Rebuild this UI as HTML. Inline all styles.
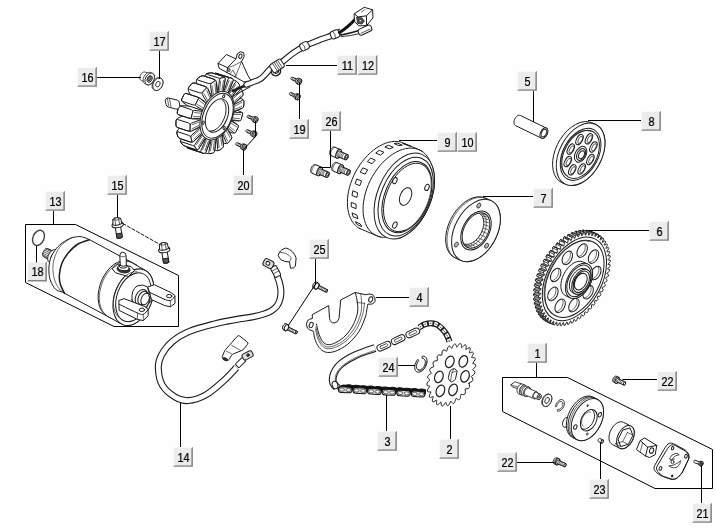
<!DOCTYPE html>
<html lang="en"><head><meta charset="utf-8"><title>Parts diagram</title>
<style>
html,body{margin:0;padding:0;background:#fff}
body{width:716px;height:531px;overflow:hidden;position:relative;font-family:"Liberation Sans",sans-serif}
svg{position:absolute;left:0;top:0;display:block}
.ln{fill:none;stroke:#000;stroke-width:1}
.p{fill:#fefefe;stroke:#1c1c1c;stroke-width:1;stroke-linejoin:round;stroke-linecap:round}
.n{fill:none;stroke:#1c1c1c;stroke-width:1;stroke-linejoin:round;stroke-linecap:round}
.t{fill:none;stroke:#2a2a2a;stroke-width:.7;stroke-linejoin:round;stroke-linecap:round}
.q{fill:#fefefe;stroke:#222;stroke-width:.85;stroke-linejoin:round}
.g{fill:#bbb;stroke:#222;stroke-width:.8}
.d{fill:#333;stroke:#222;stroke-width:.8}
.lb rect.f{fill:#ececec}
.lb path.s{fill:#828282}
.lb path.h{fill:#f8f8f8}
.lb text{font-family:"Liberation Sans",sans-serif;font-size:12px;fill:#000;stroke:#000;stroke-width:.25px;text-anchor:middle}
</style></head><body>
<svg width="716" height="531" viewBox="0 0 716 531">
<rect width="716" height="531" fill="#fefefe"/>

<g id="parts">
<path class="p" d="M359.8 228.5C356.4 226.9 356.8 226.6 355.5 225.4C354.2 224.2 353 222.7 352 221.1C351 219.5 350.1 217.7 349.4 215.7C348.8 213.8 348.2 211.7 347.9 209.5C347.5 207.3 347.4 204.9 347.4 202.5C347.4 200.1 347.6 197.6 347.9 195C348.3 192.5 348.8 189.9 349.5 187.3C350.2 184.7 351.1 182.1 352.1 179.5C353.1 176.9 354.3 174.4 355.6 171.9C356.9 169.5 358.4 167.1 359.9 164.8C361.5 162.5 363.2 160.3 364.9 158.3C366.7 156.3 368.5 154.4 370.5 152.6C372.4 150.9 374.3 149.4 376.3 148C378.3 146.7 380.4 145.5 382.4 144.5C384.4 143.6 386.5 142.8 388.5 142.3C390.5 141.8 392.5 141.5 394.4 141.4C396.2 141.4 398.1 141.5 399.9 141.9C401.6 142.3 401.4 142.3 404.8 143.7C408.3 145.2 417.4 149 420.5 150.4C423.6 151.8 422.5 151.6 423.4 152.3C424.4 153.1 425.2 153.9 426 154.8C426.8 155.7 427.5 156.5 428.3 157.8C429 159.1 429.9 161.1 430.7 162.7C431.4 164.3 432.2 165.8 432.7 167.5C433.3 169.2 433.7 171.1 434 173C434.3 175 434.5 177.1 434.5 179.2C434.6 181.3 434.5 183.5 434.3 185.8C434 188 433.7 190.3 433.2 192.6C432.7 194.9 432.1 197.3 431.4 199.6C430.7 201.9 429.8 204.2 428.8 206.4C427.9 208.7 426.8 210.9 425.7 213C424.5 215.1 423.3 217.2 421.9 219.1C420.6 221.1 419.2 222.9 417.8 224.7C416.3 226.4 414.8 228 413.2 229.4C411.6 230.9 410 232.2 408.4 233.3C406.8 234.5 405.2 235.4 403.5 236.2C401.9 237 401.6 237.9 398.7 238.1C395.7 238.3 388.7 237.6 385.9 237.4C383.2 237.3 383.4 237.4 382.2 237.3C381 237.1 379.8 236.9 378.7 236.5C377.5 236.2 378.6 236.5 375.4 235.1C372.3 233.8 363.1 230.1 359.8 228.5Z"/>
<path class="n" d="M380.4 237C379.5 236.6 376.7 235.9 375 234.9C373.4 234 371.8 232.8 370.5 231.4C369.1 230 367.9 228.3 366.9 226.5C365.9 224.6 365.1 222.6 364.5 220.4C363.8 218.2 363.4 215.8 363.2 213.3C363 210.8 363 208.1 363.2 205.4C363.4 202.8 363.8 199.9 364.4 197.2C365 194.4 365.8 191.5 366.8 188.7C367.8 185.9 369 183.1 370.3 180.4C371.6 177.7 373.2 175.1 374.8 172.6C376.4 170.1 378.3 167.7 380.1 165.4C382 163.2 384 161.1 386.1 159.3C388.2 157.4 390.3 155.7 392.5 154.3C394.7 152.9 396.9 151.7 399.1 150.7C401.3 149.8 403.5 149.1 405.6 148.6C407.8 148.2 409.9 148 411.9 148.1C413.9 148.2 415.9 148.5 417.7 149.2C419.5 149.8 421.9 151.3 422.7 151.8"/>
<path class="p" d="M357.5 224.7L361.9 226.6L360.1 223.8L355.6 221.9Z"/>
<path class="p" d="M353.4 216.8L357.9 218.7L356.9 215L352.4 213.1Z"/>
<path class="p" d="M351.7 206.9L356.1 208.7L356.1 204.4L351.6 202.5Z"/>
<path class="p" d="M352.3 195.6L356.8 197.5L357.7 192.8L353.3 190.9Z"/>
<path class="p" d="M355.4 183.8L359.8 185.7L361.6 181L357.2 179.1Z"/>
<path class="p" d="M360.6 172.3L365.1 174.1L367.7 169.8L363.2 168Z"/>
<path class="p" d="M367.7 161.8L372.1 163.7L375.3 160.1L370.9 158.2Z"/>
<path class="p" d="M376.1 153.2L380.5 155.1L384 152.3L379.6 150.5Z"/>
<path class="p" d="M385.2 147.1L389.6 148.9L393.3 147.3L388.8 145.4Z"/>
<path class="p" d="M394.4 143.7L398.8 145.6L402.3 145.1L397.9 143.3Z"/>
<path class="p" d="M403 143.5L407.5 145.4L410.6 146.2L406.2 144.3Z"/>
<ellipse class="p" cx="404.3" cy="196" rx="26.7" ry="45.2" transform="rotate(23 404.3 196)"/>
<ellipse class="n" cx="405.7" cy="196.6" rx="24.4" ry="41.4" transform="rotate(23 405.7 196.6)"/>
<ellipse class="p" cx="406.9" cy="197.1" rx="22.1" ry="37.4" transform="rotate(23 406.9 197.1)"/>
<path class="n" d="M405.2 230.3C404.3 230.5 401.5 231.4 399.7 231.5C398 231.7 396.3 231.5 394.7 231C393.1 230.5 391.7 229.7 390.4 228.6C389.1 227.5 387.9 226.1 387 224.5C386 223 385.2 221.1 384.7 219C384.1 217 383.7 214.7 383.6 212.3C383.5 210 383.5 207.4 383.8 204.9C384.1 202.3 384.6 199.6 385.3 197C386.1 194.3 387 191.7 388.1 189.1C389.1 186.6 390.4 184 391.8 181.7C393.2 179.4 394.8 177.1 396.5 175.1C398.1 173.1 399.9 171.3 401.7 169.7C403.5 168.2 405.4 166.9 407.2 165.9C409.1 164.9 411 164.1 412.8 163.7C414.6 163.3 416.4 163.1 418.1 163.3C419.7 163.5 421.4 164 422.8 164.8C424.2 165.6 425.6 166.7 426.7 168C427.8 169.4 429.1 172.1 429.6 172.9"/>
<path class="t" d="M424.3 165.6C424.9 166.2 426.8 168 427.8 169.7C428.7 171.3 429.5 173.2 430.1 175.2C430.7 177.3 431 179.6 431.2 182C431.3 184.4 431.2 187 430.9 189.6C430.6 192.1 430.1 194.9 429.4 197.5C428.7 200.2 427.7 202.9 426.6 205.5C425.6 208.1 424.2 210.6 422.8 213C421.4 215.3 419.8 217.6 418.2 219.6C416.5 221.6 414.7 223.5 412.9 225.1C411.1 226.6 409.1 228 407.3 229C405.4 230 403.5 230.8 401.6 231.2C399.8 231.6 397.2 231.5 396.3 231.5"/>
<ellipse class="p" cx="405.6" cy="196.5" rx="5.5" ry="9.3" transform="rotate(23 405.6 196.5)"/>
<ellipse class="p" cx="394.9" cy="180.6" rx="2" ry="3.3" transform="rotate(23 394.9 180.6)"/>
<ellipse class="p" cx="427" cy="187.4" rx="2" ry="3.3" transform="rotate(23 427 187.4)"/>
<ellipse class="p" cx="394.9" cy="225.1" rx="2" ry="3.3" transform="rotate(23 394.9 225.1)"/>
<path class="p" d="M595.2 290.5L596.2 292.7L595.2 294.3L592.9 294.5L592.7 294.9L593.4 297.4L592.3 298.9L590.2 298.7L589.9 299.1L590.3 301.8L589.2 303.2L587.1 302.7L586.8 303.1L587 305.9L585.8 307.2L583.9 306.4L583.6 306.7L583.5 309.7L582.2 310.9L580.5 309.7L580.2 310L579.8 313.1L578.5 314.2L577 312.7L576.6 312.9L576 316.1L574.7 317L573.4 315.2L573 315.4L572.1 318.6L570.8 319.4L569.7 317.3L569.4 317.5L568.2 320.6L566.9 321.2L566.1 318.9L565.7 319L564.4 322.2L563.1 322.6L562.5 320L562.1 320.1L560.6 323.2L559.3 323.4L559 320.6L558.6 320.7L556.9 323.6L555.6 323.6L555.6 320.7L555.2 320.7L553.3 323.5L552.2 323.4L552.4 320.3L552 320.3L550 322.9L548.9 322.5L549.3 319.4L549 319.3L546.8 321.7L545.8 321.2L546.6 318L546.3 317.8L544 320L543.1 319.3L544.1 316.1L543.8 315.9L541.4 317.8L540.6 316.9L541.8 313.7L541.6 313.5L539.2 315.1L538.5 314.1L540 311L539.8 310.7L537.3 312L536.8 310.8L538.4 307.8L538.3 307.4L535.9 308.4L535.5 307.1L537.3 304.2L537.2 303.9L534.8 304.5L534.5 303.1L536.5 300.4L536.5 300L534.1 300.3L534 298.7L536.1 296.2L536.1 295.8L533.9 295.7L533.9 294.2L536.1 291.9L536.1 291.4L534 291L534.2 289.4L536.5 287.3L536.6 286.8L534.6 286.1L534.9 284.4L537.3 282.6L537.4 282.2L535.6 281.1L536 279.4L538.5 277.9L538.6 277.4L537 276.1L537.6 274.3L540 273.2L540.2 272.7L538.8 271L539.5 269.3L541.9 268.5L542.1 268L540.9 266L541.8 264.4L544.1 263.9L544.4 263.4L543.4 261.2L544.4 259.6L546.7 259.4L546.9 259L546.2 256.5L547.2 255L549.4 255.2L549.7 254.8L549.3 252.1L550.4 250.7L552.5 251.2L552.8 250.8L552.6 248L553.8 246.7L555.7 247.5L556 247.2L556.1 244.2L557.4 243L559.1 244.2L559.4 243.9L559.8 240.8L561.1 239.7L562.6 241.2L563 241L563.6 237.8L564.9 236.9L566.2 238.7L566.6 238.5L567.5 235.3L568.8 234.5L569.9 236.6L570.2 236.4L571.3 233.3L572.7 232.7L573.5 235L573.9 234.9L575.2 231.7L576.5 231.3L577.1 233.9L577.5 233.8L579 230.7L580.3 230.5L580.6 233.3L581 233.2L582.7 230.3L584 230.3L584 233.2L584.3 233.2L586.3 230.4L587.4 230.5L587.2 233.6L587.6 233.6L589.6 231L590.7 231.4L590.3 234.5L590.5 234.6L592.8 232.2L593.8 232.7L593 235.9L593.3 236.1L595.6 233.9L596.5 234.6L595.5 237.8L595.8 238L598.2 236.1L599 237L597.7 240.1L597.9 240.4L600.4 238.8L601.1 239.8L599.6 242.9L599.8 243.2L602.2 241.9L602.8 243.1L601.2 246.1L601.3 246.5L603.7 245.5L604.1 246.8L602.3 249.7L602.4 250L604.8 249.4L605.1 250.8L603.1 253.5L603.1 253.9L605.5 253.6L605.6 255.1L603.5 257.7L603.5 258.1L605.7 258.1L605.7 259.7L603.5 262L603.4 262.5L605.6 262.9L605.4 264.5L603.1 266.6L603 267L605 267.8L604.7 269.5L602.3 271.2L602.2 271.7L604 272.8L603.5 274.5L601.1 276L601 276.4L602.6 277.8L602 279.6L599.6 280.7L599.4 281.2L600.8 282.9L600.1 284.6L597.7 285.4L597.5 285.9L598.6 287.8L597.8 289.5L595.5 290Z" style="stroke-width:.8"/>
<path class="p" d="M550 322.9L554.6 324.8L553.5 324.5L548.9 322.5Z" style="stroke-width:.8"/>
<path class="p" d="M548.9 322.5L553.5 324.5L553.9 321.4L549.3 319.4Z" style="stroke-width:.8;fill:#999"/>
<path class="p" d="M546.8 321.7L551.4 323.6L550.4 323.1L545.8 321.2Z" style="stroke-width:.8"/>
<path class="p" d="M545.8 321.2L550.4 323.1L551.2 320L546.6 318Z" style="stroke-width:.8;fill:#999"/>
<path class="p" d="M544 320L548.6 321.9L547.7 321.2L543.1 319.3Z" style="stroke-width:.8"/>
<path class="p" d="M543.1 319.3L547.7 321.2L548.7 318.1L544.1 316.1Z" style="stroke-width:.8;fill:#999"/>
<path class="p" d="M541.4 317.8L546 319.7L545.2 318.9L540.6 316.9Z" style="stroke-width:.8"/>
<path class="p" d="M540.6 316.9L545.2 318.9L546.5 315.7L541.8 313.7Z" style="stroke-width:.8;fill:#999"/>
<path class="p" d="M539.2 315.1L543.8 317L543.1 316L538.5 314.1Z" style="stroke-width:.8"/>
<path class="p" d="M538.5 314.1L543.1 316L544.6 312.9L540 311Z" style="stroke-width:.8;fill:#999"/>
<path class="p" d="M537.3 312L542 313.9L541.4 312.7L536.8 310.8Z" style="stroke-width:.8"/>
<path class="p" d="M536.8 310.8L541.4 312.7L543 309.7L538.4 307.8Z" style="stroke-width:.8;fill:#999"/>
<path class="p" d="M535.9 308.4L540.5 310.4L540.1 309.1L535.5 307.1Z" style="stroke-width:.8"/>
<path class="p" d="M535.5 307.1L540.1 309.1L541.9 306.2L537.3 304.2Z" style="stroke-width:.8;fill:#999"/>
<path class="p" d="M534.8 304.5L539.4 306.4L539.1 305L534.5 303.1Z" style="stroke-width:.8"/>
<path class="p" d="M534.5 303.1L539.1 305L541.1 302.3L536.5 300.4Z" style="stroke-width:.8;fill:#999"/>
<path class="p" d="M534.1 300.3L538.7 302.2L538.6 300.7L534 298.7Z" style="stroke-width:.8"/>
<path class="p" d="M534 298.7L538.6 300.7L540.7 298.2L536.1 296.2Z" style="stroke-width:.8;fill:#999"/>
<path class="p" d="M533.9 295.7L538.5 297.7L538.5 296.1L533.9 294.2Z" style="stroke-width:.8"/>
<path class="p" d="M533.9 294.2L538.5 296.1L540.7 293.8L536.1 291.9Z" style="stroke-width:.8;fill:#999"/>
<path class="p" d="M534 291L538.6 293L538.8 291.3L534.2 289.4Z" style="stroke-width:.8"/>
<path class="p" d="M534.2 289.4L538.8 291.3L541.1 289.3L536.5 287.3Z" style="stroke-width:.8;fill:#999"/>
<path class="p" d="M534.6 286.1L539.2 288.1L539.5 286.4L534.9 284.4Z" style="stroke-width:.8"/>
<path class="p" d="M534.9 284.4L539.5 286.4L541.9 284.6L537.3 282.6Z" style="stroke-width:.8;fill:#999"/>
<path class="p" d="M535.6 281.1L540.2 283.1L540.6 281.4L536 279.4Z" style="stroke-width:.8"/>
<path class="p" d="M536 279.4L540.6 281.4L543.1 279.9L538.5 277.9Z" style="stroke-width:.8;fill:#999"/>
<path class="p" d="M537 276.1L541.6 278L542.2 276.3L537.6 274.3Z" style="stroke-width:.8"/>
<path class="p" d="M537.6 274.3L542.2 276.3L544.6 275.1L540 273.2Z" style="stroke-width:.8;fill:#999"/>
<path class="p" d="M538.8 271L543.4 273L544.1 271.3L539.5 269.3Z" style="stroke-width:.8"/>
<path class="p" d="M539.5 269.3L544.1 271.3L546.5 270.4L541.9 268.5Z" style="stroke-width:.8;fill:#999"/>
<path class="p" d="M540.9 266L545.6 268L546.4 266.3L541.8 264.4Z" style="stroke-width:.8"/>
<path class="p" d="M541.8 264.4L546.4 266.3L548.7 265.8L544.1 263.9Z" style="stroke-width:.8;fill:#999"/>
<path class="p" d="M543.4 261.2L548 263.2L549 261.5L544.4 259.6Z" style="stroke-width:.8"/>
<path class="p" d="M544.4 259.6L549 261.5L551.3 261.4L546.7 259.4Z" style="stroke-width:.8;fill:#999"/>
<path class="p" d="M546.2 256.5L550.8 258.5L551.8 257L547.2 255Z" style="stroke-width:.8"/>
<path class="p" d="M547.2 255L551.8 257L554 257.2L549.4 255.2Z" style="stroke-width:.8;fill:#999"/>
<path class="p" d="M549.3 252.1L553.9 254.1L555 252.6L550.4 250.7Z" style="stroke-width:.8"/>
<path class="p" d="M550.4 250.7L555 252.6L557.1 253.2L552.5 251.2Z" style="stroke-width:.8;fill:#999"/>
<path class="p" d="M552.6 248L557.2 249.9L558.4 248.6L553.8 246.7Z" style="stroke-width:.8"/>
<path class="p" d="M553.8 246.7L558.4 248.6L560.3 249.5L555.7 247.5Z" style="stroke-width:.8;fill:#999"/>
<path class="p" d="M556.1 244.2L560.7 246.2L562 245L557.4 243Z" style="stroke-width:.8"/>
<path class="p" d="M557.4 243L562 245L563.7 246.1L559.1 244.2Z" style="stroke-width:.8;fill:#999"/>
<path class="p" d="M559.8 240.8L564.4 242.7L565.7 241.7L561.1 239.7Z" style="stroke-width:.8"/>
<path class="p" d="M561.1 239.7L565.7 241.7L567.2 243.2L562.6 241.2Z" style="stroke-width:.8;fill:#999"/>
<path class="p" d="M563.6 237.8L568.2 239.8L569.5 238.9L564.9 236.9Z" style="stroke-width:.8"/>
<path class="p" d="M564.9 236.9L569.5 238.9L570.8 240.7L566.2 238.7Z" style="stroke-width:.8;fill:#999"/>
<path class="p" d="M567.5 235.3L572.1 237.2L573.4 236.5L568.8 234.5Z" style="stroke-width:.8"/>
<path class="p" d="M568.8 234.5L573.4 236.5L574.5 238.6L569.9 236.6Z" style="stroke-width:.8;fill:#999"/>
<path class="p" d="M571.3 233.3L575.9 235.2L577.3 234.6L572.7 232.7Z" style="stroke-width:.8"/>
<path class="p" d="M572.7 232.7L577.3 234.6L578.1 237L573.5 235Z" style="stroke-width:.8;fill:#999"/>
<path class="p" d="M575.2 231.7L579.8 233.7L581.1 233.3L576.5 231.3Z" style="stroke-width:.8"/>
<path class="p" d="M576.5 231.3L581.1 233.3L581.7 235.8L577.1 233.9Z" style="stroke-width:.8;fill:#999"/>
<path class="p" d="M579 230.7L583.6 232.7L584.9 232.5L580.3 230.5Z" style="stroke-width:.8"/>
<path class="p" d="M580.3 230.5L584.9 232.5L585.2 235.2L580.6 233.3Z" style="stroke-width:.8;fill:#999"/>
<path class="p" d="M582.7 230.3L587.3 232.2L588.6 232.2L584 230.3Z" style="stroke-width:.8"/>
<path class="p" d="M584 230.3L588.6 232.2L588.6 235.1L584 233.2Z" style="stroke-width:.8;fill:#999"/>
<path class="p" d="M586.3 230.4L590.9 232.3L592 232.5L587.4 230.5Z" style="stroke-width:.8"/>
<path class="p" d="M587.4 230.5L592 232.5L591.8 235.5L587.2 233.6Z" style="stroke-width:.8;fill:#999"/>
<path class="p" d="M589.6 231L594.2 233L595.3 233.3L590.7 231.4Z" style="stroke-width:.8"/>
<path class="p" d="M590.7 231.4L595.3 233.3L594.9 236.4L590.3 234.5Z" style="stroke-width:.8;fill:#999"/>
<path class="p" d="M592.8 232.2L597.4 234.2L598.4 234.7L593.8 232.7Z" style="stroke-width:.8"/>
<path class="p" d="M593.8 232.7L598.4 234.7L597.6 237.8L593 235.9Z" style="stroke-width:.8;fill:#999"/>
<path class="p" d="M595.6 233.9L600.2 235.9L601.1 236.6L596.5 234.6Z" style="stroke-width:.8"/>
<path class="p" d="M596.5 234.6L601.1 236.6L600.1 239.7L595.5 237.8Z" style="stroke-width:.8;fill:#999"/>
<path class="p" d="M598.2 236.1L602.8 238.1L603.6 238.9L599 237Z" style="stroke-width:.8"/>
<path class="p" d="M599 237L603.6 238.9L602.3 242.1L597.7 240.1Z" style="stroke-width:.8;fill:#999"/>
<path class="p" d="M599.8 292.4L600.8 294.6L599.8 296.3L597.5 296.4L597.3 296.8L598 299.3L597 300.8L594.8 300.6L594.5 301.1L594.9 303.7L593.8 305.2L591.7 304.6L591.4 305L591.6 307.9L590.4 309.2L588.5 308.3L588.2 308.7L588.1 311.6L586.8 312.8L585.1 311.7L584.8 312L584.4 315.1L583.1 316.1L581.6 314.6L581.2 314.9L580.6 318L579.3 318.9L578 317.1L577.6 317.4L576.7 320.6L575.4 321.3L574.3 319.2L574 319.4L572.9 322.6L571.5 323.2L570.7 320.8L570.3 321L569 324.1L567.7 324.5L567.1 322L566.7 322.1L565.2 325.1L563.9 325.3L563.6 322.6L563.2 322.6L561.5 325.6L560.2 325.6L560.2 322.7L559.8 322.7L557.9 325.5L556.8 325.3L557 322.3L556.6 322.2L554.6 324.8L553.5 324.5L553.9 321.4L553.6 321.2L551.4 323.6L550.4 323.1L551.2 320L550.9 319.8L548.6 321.9L547.7 321.2L548.7 318.1L548.4 317.8L546 319.7L545.2 318.9L546.5 315.7L546.2 315.4L543.8 317L543.1 316L544.6 312.9L544.4 312.6L542 313.9L541.4 312.7L543 309.7L542.9 309.4L540.5 310.4L540.1 309.1L541.9 306.2L541.8 305.8L539.4 306.4L539.1 305L541.1 302.3L541.1 301.9L538.7 302.2L538.6 300.7L540.7 298.2L540.7 297.7L538.5 297.7L538.5 296.1L540.7 293.8L540.8 293.4L538.6 293L538.8 291.3L541.1 289.3L541.2 288.8L539.2 288.1L539.5 286.4L541.9 284.6L542 284.1L540.2 283.1L540.6 281.4L543.1 279.9L543.2 279.4L541.6 278L542.2 276.3L544.6 275.1L544.8 274.7L543.4 273L544.1 271.3L546.5 270.4L546.7 270L545.6 268L546.4 266.3L548.7 265.8L549 265.4L548 263.2L549 261.5L551.3 261.4L551.5 261L550.8 258.5L551.8 257L554 257.2L554.3 256.7L553.9 254.1L555 252.6L557.1 253.2L557.4 252.8L557.2 249.9L558.4 248.6L560.3 249.5L560.6 249.1L560.7 246.2L562 245L563.7 246.1L564 245.8L564.4 242.7L565.7 241.7L567.2 243.2L567.6 242.9L568.2 239.8L569.5 238.9L570.8 240.7L571.2 240.4L572.1 237.2L573.4 236.5L574.5 238.6L574.8 238.4L575.9 235.2L577.3 234.6L578.1 237L578.5 236.8L579.8 233.7L581.1 233.3L581.7 235.8L582.1 235.7L583.6 232.7L584.9 232.5L585.2 235.2L585.6 235.2L587.3 232.2L588.6 232.2L588.6 235.1L589 235.1L590.9 232.3L592 232.5L591.8 235.5L592.2 235.6L594.2 233L595.3 233.3L594.9 236.4L595.2 236.6L597.4 234.2L598.4 234.7L597.6 237.8L597.9 238L600.2 235.9L601.1 236.6L600.1 239.7L600.4 240L602.8 238.1L603.6 238.9L602.3 242.1L602.6 242.4L605 240.8L605.7 241.8L604.2 244.9L604.4 245.2L606.8 243.9L607.4 245.1L605.8 248.1L605.9 248.4L608.3 247.4L608.7 248.7L606.9 251.6L607 252L609.4 251.4L609.7 252.8L607.7 255.5L607.7 255.9L610.1 255.6L610.2 257.1L608.1 259.6L608.1 260.1L610.3 260.1L610.3 261.7L608.1 264L608 264.4L610.2 264.8L610 266.5L607.7 268.5L607.6 269L609.6 269.7L609.3 271.4L606.9 273.2L606.8 273.7L608.6 274.7L608.2 276.4L605.7 277.9L605.6 278.4L607.2 279.8L606.6 281.5L604.2 282.7L604 283.1L605.4 284.8L604.7 286.5L602.3 287.4L602.1 287.8L603.2 289.8L602.4 291.5L600.1 292Z" style="stroke-width:.9"/>
<ellipse class="n" cx="574.4" cy="278.9" rx="27.4" ry="45" transform="rotate(28 574.4 278.9)"/>
<ellipse class="n" cx="574.4" cy="278.9" rx="25.3" ry="41.5" transform="rotate(28 574.4 278.9)"/>
<path class="t" d="M552.2 312.9C551.6 312.3 549.5 310.6 548.4 309.1C547.4 307.5 546.4 305.8 545.8 303.8C545.1 301.9 544.6 299.7 544.3 297.5C544.1 295.2 544 292.7 544.2 290.2C544.3 287.7 544.7 285.1 545.3 282.4C545.9 279.8 546.7 277.1 547.7 274.5C548.7 271.9 549.9 269.2 551.2 266.7C552.5 264.2 554.1 261.7 555.7 259.5C557.3 257.2 559.1 255 561 253C562.8 251.1 564.8 249.3 566.8 247.7C568.7 246.2 570.8 244.9 572.8 243.8C574.9 242.8 576.9 242 578.9 241.5C580.9 240.9 582.9 240.7 584.8 240.7C586.6 240.8 589.2 241.5 590.1 241.7"/>
<ellipse class="p" cx="582.2" cy="250.6" rx="4.5" ry="7.3" transform="rotate(28 582.2 250.6)"/>
<path class="t" d="M584.7 244.6C584.7 244.8 585.1 245.5 585.2 246C585.3 246.6 585.3 247.2 585.3 247.8C585.2 248.4 585.1 249.1 584.9 249.8C584.7 250.5 584.4 251.2 584 251.8C583.7 252.4 583.3 253 582.9 253.6C582.4 254.1 581.9 254.6 581.4 255C580.9 255.4 580.4 255.7 579.9 256C579.4 256.2 578.6 256.3 578.4 256.3"/>
<ellipse class="p" cx="593.5" cy="256.6" rx="4.5" ry="7.3" transform="rotate(28 593.5 256.6)"/>
<path class="t" d="M595.9 250.5C596 250.8 596.3 251.4 596.4 252C596.5 252.5 596.5 253.2 596.5 253.8C596.4 254.4 596.3 255.1 596.1 255.8C595.9 256.4 595.6 257.1 595.3 257.8C594.9 258.4 594.5 259 594.1 259.5C593.7 260.1 593.2 260.6 592.7 261C592.2 261.4 591.6 261.7 591.1 261.9C590.6 262.2 589.9 262.2 589.6 262.3"/>
<ellipse class="p" cx="595.8" cy="273" rx="4.5" ry="7.3" transform="rotate(28 595.8 273)"/>
<path class="t" d="M598.2 266.9C598.3 267.2 598.6 267.9 598.7 268.4C598.8 268.9 598.9 269.6 598.8 270.2C598.8 270.8 598.6 271.5 598.4 272.2C598.2 272.9 597.9 273.5 597.6 274.2C597.3 274.8 596.8 275.4 596.4 276C596 276.5 595.5 277 595 277.4C594.5 277.8 594 278.1 593.4 278.4C592.9 278.6 592.2 278.7 591.9 278.7"/>
<ellipse class="p" cx="588.1" cy="292.2" rx="4.5" ry="7.3" transform="rotate(28 588.1 292.2)"/>
<path class="t" d="M590.5 286.1C590.6 286.4 590.9 287 591 287.6C591.1 288.1 591.2 288.8 591.1 289.4C591.1 290 590.9 290.7 590.7 291.4C590.5 292 590.2 292.7 589.9 293.4C589.6 294 589.1 294.6 588.7 295.1C588.3 295.7 587.8 296.2 587.3 296.6C586.8 297 586.3 297.3 585.7 297.5C585.2 297.8 584.5 297.8 584.2 297.9"/>
<ellipse class="p" cx="574" cy="305.1" rx="4.5" ry="7.3" transform="rotate(28 574 305.1)"/>
<path class="t" d="M576.4 299.1C576.5 299.3 576.8 300 576.9 300.5C577 301.1 577.1 301.7 577 302.4C577 303 576.8 303.7 576.6 304.3C576.4 305 576.1 305.7 575.8 306.3C575.5 306.9 575 307.6 574.6 308.1C574.2 308.6 573.7 309.1 573.2 309.5C572.7 309.9 572.2 310.3 571.6 310.5C571.1 310.7 570.4 310.8 570.1 310.9"/>
<ellipse class="p" cx="560.1" cy="305.8" rx="4.5" ry="7.3" transform="rotate(28 560.1 305.8)"/>
<path class="t" d="M562.5 299.8C562.6 300 562.9 300.7 563 301.2C563.1 301.8 563.2 302.4 563.1 303C563 303.7 562.9 304.4 562.7 305C562.5 305.7 562.2 306.4 561.9 307C561.5 307.6 561.1 308.3 560.7 308.8C560.3 309.3 559.8 309.8 559.3 310.2C558.8 310.6 558.2 311 557.7 311.2C557.2 311.4 556.5 311.5 556.2 311.6"/>
<ellipse class="p" cx="552.9" cy="293.9" rx="4.5" ry="7.3" transform="rotate(28 552.9 293.9)"/>
<path class="t" d="M555.3 287.9C555.4 288.1 555.7 288.8 555.8 289.3C555.9 289.9 555.9 290.5 555.9 291.1C555.8 291.8 555.7 292.4 555.5 293.1C555.3 293.8 555 294.5 554.7 295.1C554.3 295.7 553.9 296.3 553.5 296.9C553.1 297.4 552.6 297.9 552.1 298.3C551.6 298.7 551 299 550.5 299.3C550 299.5 549.3 299.6 549 299.6"/>
<ellipse class="p" cx="555.7" cy="275" rx="4.5" ry="7.3" transform="rotate(28 555.7 275)"/>
<path class="t" d="M558.2 268.9C558.2 269.2 558.6 269.8 558.7 270.4C558.8 270.9 558.8 271.6 558.8 272.2C558.7 272.8 558.6 273.5 558.4 274.2C558.2 274.8 557.9 275.5 557.5 276.1C557.2 276.8 556.8 277.4 556.4 277.9C555.9 278.5 555.4 279 554.9 279.4C554.4 279.8 553.9 280.1 553.4 280.3C552.9 280.5 552.1 280.6 551.9 280.7"/>
<ellipse class="p" cx="567.3" cy="257.9" rx="4.5" ry="7.3" transform="rotate(28 567.3 257.9)"/>
<path class="t" d="M569.7 251.8C569.8 252.1 570.2 252.7 570.3 253.3C570.4 253.8 570.4 254.4 570.4 255.1C570.3 255.7 570.2 256.4 570 257.1C569.8 257.7 569.5 258.4 569.1 259C568.8 259.7 568.4 260.3 568 260.8C567.5 261.4 567 261.9 566.5 262.3C566 262.7 565.5 263 565 263.2C564.5 263.4 563.7 263.5 563.5 263.6"/>
<path class="p" d="M566 295.9L564.3 294.9L562.9 293.4L561.8 291.4L561.1 289L560.8 286.4L561 283.5L561.5 280.5L562.4 277.4L563.7 274.4L565.3 271.5L567.2 268.8L569.3 266.4L571.6 264.5L573.9 262.9L576.3 261.9L578.6 261.3L580.8 261.3L582.8 261.9L587.4 263.8L589.1 264.9L590.5 266.4L591.6 268.4L592.3 270.7L592.6 273.4L592.4 276.3L591.9 279.3L591 282.4L589.7 285.4L588.1 288.3L586.2 290.9L584.1 293.3L581.8 295.3L579.5 296.8L577.1 297.9L574.8 298.4L572.6 298.4L570.6 297.9Z"/>
<ellipse class="p" cx="579" cy="280.9" rx="11.6" ry="19" transform="rotate(28 579 280.9)"/>
<ellipse class="n" cx="579" cy="280.9" rx="10.4" ry="17" transform="rotate(28 579 280.9)"/>
<path class="p" d="M573.1 293L571.8 292.2L570.8 291.1L570.1 289.7L569.6 288.1L569.4 286.2L569.5 284.1L569.8 282L570.5 279.8L571.4 277.6L572.6 275.6L573.9 273.7L575.4 272L577 270.6L578.7 269.5L580.3 268.8L582 268.4L583.5 268.4L584.9 268.7L587.2 269.7L588.5 270.5L589.5 271.6L590.2 273L590.7 274.6L590.9 276.5L590.9 278.6L590.5 280.7L589.8 282.9L588.9 285.1L587.8 287.1L586.4 289L584.9 290.7L583.3 292.1L581.6 293.2L580 293.9L578.3 294.3L576.8 294.3L575.4 293.9Z"/>
<ellipse class="p" cx="581.3" cy="281.8" rx="8.2" ry="13.5" transform="rotate(28 581.3 281.8)"/>
<ellipse class="n" cx="581.3" cy="281.8" rx="7" ry="11.5" transform="rotate(28 581.3 281.8)"/>
<ellipse class="p" cx="580.8" cy="281.6" rx="5.5" ry="9" transform="rotate(28 580.8 281.6)"/>
<path class="n" d="M575.9 288.7C575.7 288.6 575 288.1 574.7 287.6C574.4 287.2 574.1 286.5 574 285.9C573.9 285.2 573.8 284.5 573.9 283.7C573.9 282.9 574.1 282.1 574.3 281.2C574.6 280.4 574.9 279.6 575.3 278.8C575.8 278 576.3 277.3 576.8 276.6C577.3 276 578 275.3 578.6 274.9C579.2 274.4 579.8 274 580.5 273.7C581.1 273.5 581.7 273.4 582.3 273.4C582.9 273.4 583.6 273.7 583.9 273.7"/>
<path class="p" d="M562.2 182.8L559.1 180.9L556.5 178.2L554.5 174.7L553.2 170.5L552.6 165.7L552.7 160.6L553.6 155.3L555.2 149.8L557.4 144.5L560.3 139.4L563.6 134.7L567.4 130.5L571.4 127.1L575.6 124.4L579.9 122.6L584.1 121.6L588 121.7L591.6 122.7L595.3 124.2L598.4 126.1L601.1 128.9L603 132.4L604.4 136.6L605 141.3L604.8 146.4L603.9 151.8L602.3 157.2L600.1 162.6L597.2 167.7L593.9 172.4L590.1 176.5L586.1 180L581.9 182.7L577.6 184.5L573.5 185.4L569.5 185.4L565.9 184.4Z"/>
<ellipse class="p" cx="580.6" cy="154.3" rx="21.1" ry="33.5" transform="rotate(28 580.6 154.3)"/>
<ellipse class="n" cx="580.6" cy="154.3" rx="17.6" ry="28" transform="rotate(28 580.6 154.3)"/>
<ellipse class="n" cx="580.6" cy="154.3" rx="16.3" ry="25.8" transform="rotate(28 580.6 154.3)"/>
<path class="t" d="M567.5 175.8C566.9 175.3 565.2 174.2 564.3 173.1C563.4 172 562.6 170.6 562.1 169.1C561.6 167.6 561.2 165.9 561.1 164.1C561 162.3 561 160.3 561.3 158.3C561.6 156.4 562.1 154.3 562.7 152.3C563.4 150.3 564.3 148.2 565.3 146.3C566.3 144.4 567.5 142.5 568.8 140.9C570.1 139.2 571.6 137.6 573 136.3C574.5 134.9 576.1 133.8 577.7 132.9C579.2 132 580.9 131.3 582.4 130.9C584 130.5 585.5 130.4 587 130.5C588.4 130.6 590.3 131.4 591 131.6"/>
<ellipse class="p" cx="590.4" cy="159.5" rx="2.9" ry="5.6" transform="rotate(28 590.4 159.5)"/>
<ellipse class="p" cx="581.7" cy="169" rx="2.9" ry="5.6" transform="rotate(28 581.7 169)"/>
<ellipse class="p" cx="572.3" cy="169.8" rx="2.9" ry="5.6" transform="rotate(28 572.3 169.8)"/>
<ellipse class="p" cx="567.8" cy="161.6" rx="2.9" ry="5.6" transform="rotate(28 567.8 161.6)"/>
<ellipse class="p" cx="570.8" cy="149.1" rx="2.9" ry="5.6" transform="rotate(28 570.8 149.1)"/>
<ellipse class="p" cx="579.5" cy="139.6" rx="2.9" ry="5.6" transform="rotate(28 579.5 139.6)"/>
<ellipse class="p" cx="588.9" cy="138.8" rx="2.9" ry="5.6" transform="rotate(28 588.9 138.8)"/>
<ellipse class="p" cx="593.4" cy="147" rx="2.9" ry="5.6" transform="rotate(28 593.4 147)"/>
<ellipse class="t" cx="591.1" cy="159.8" rx="1.8" ry="4" transform="rotate(28 591.1 159.8)"/>
<ellipse class="t" cx="582.4" cy="169.3" rx="1.8" ry="4" transform="rotate(28 582.4 169.3)"/>
<ellipse class="t" cx="573.1" cy="170.2" rx="1.8" ry="4" transform="rotate(28 573.1 170.2)"/>
<ellipse class="t" cx="568.6" cy="161.9" rx="1.8" ry="4" transform="rotate(28 568.6 161.9)"/>
<ellipse class="t" cx="571.5" cy="149.4" rx="1.8" ry="4" transform="rotate(28 571.5 149.4)"/>
<ellipse class="t" cx="580.3" cy="139.9" rx="1.8" ry="4" transform="rotate(28 580.3 139.9)"/>
<ellipse class="t" cx="589.6" cy="139.1" rx="1.8" ry="4" transform="rotate(28 589.6 139.1)"/>
<ellipse class="t" cx="594.1" cy="147.3" rx="1.8" ry="4" transform="rotate(28 594.1 147.3)"/>
<ellipse class="p" cx="580.6" cy="154.3" rx="5.4" ry="8.5" transform="rotate(28 580.6 154.3)"/>
<ellipse class="n" cx="581.1" cy="154.5" rx="4" ry="6.3" transform="rotate(28 581.1 154.5)"/>
<ellipse class="p" cx="581.5" cy="154.7" rx="2.6" ry="4.2" transform="rotate(28 581.5 154.7)"/>
<path class="p" d="M455.3 258L452.2 256.1L449.6 253.4L447.6 249.9L446.3 245.7L445.7 241L445.8 235.8L446.7 230.5L448.3 225L450.5 219.7L453.4 214.6L456.7 209.9L460.5 205.8L464.5 202.3L468.7 199.6L473 197.8L477.1 196.9L481.1 196.9L484.7 197.9L490.7 200.4L493.8 202.3L496.5 205.1L498.4 208.6L499.8 212.8L500.4 217.5L500.2 222.6L499.3 228L497.7 233.4L495.5 238.8L492.6 243.9L489.3 248.6L485.5 252.7L481.5 256.2L477.3 258.9L473 260.7L468.9 261.6L464.9 261.6L461.3 260.6Z"/>
<ellipse class="p" cx="476" cy="230.5" rx="21.1" ry="33.5" transform="rotate(28 476 230.5)"/>
<path class="t" d="M455.7 258.1C455 257.6 453 256.4 451.9 255.2C450.8 254 449.9 252.5 449.1 250.9C448.4 249.3 447.8 247.4 447.5 245.5C447.1 243.6 447 241.4 447 239.2C447.1 237.1 447.3 234.7 447.8 232.5C448.2 230.2 448.9 227.8 449.7 225.5C450.6 223.2 451.6 220.8 452.8 218.6C453.9 216.4 455.3 214.3 456.7 212.3C458.2 210.3 459.8 208.4 461.4 206.8C463.1 205.1 464.9 203.6 466.6 202.4C468.4 201.1 470.3 200 472.1 199.2C473.9 198.4 475.7 197.9 477.5 197.6C479.2 197.3 481 197.3 482.6 197.5C484.2 197.7 486.4 198.7 487.1 199"/>
<ellipse class="p" cx="476" cy="230.5" rx="13.2" ry="21" transform="rotate(28 476 230.5)"/>
<ellipse class="p" cx="476" cy="230.5" rx="12" ry="19" transform="rotate(28 476 230.5)"/>
<path class="t" d="M481.2 214.2L485.4 215"/>
<path class="t" d="M482.7 216.2L487 217"/>
<path class="t" d="M483.7 218.6L488 219.6"/>
<path class="t" d="M484.1 221.5L488.5 222.7"/>
<path class="t" d="M484 224.7L488.4 226.1"/>
<path class="t" d="M483.4 228.1L487.7 229.7"/>
<path class="t" d="M482.2 231.5L486.5 233.3"/>
<path class="t" d="M480.5 234.8L484.7 236.7"/>
<path class="t" d="M478.5 237.8L482.6 239.9"/>
<path class="t" d="M476.1 240.4L480.1 242.6"/>
<path class="t" d="M473.6 242.4L477.4 244.8"/>
<path class="t" d="M470.9 243.9L474.6 246.3"/>
<path class="t" d="M468.3 244.7L471.8 247.2"/>
<path class="t" d="M465.8 244.8L469.1 247.3"/>
<path class="n" d="M479.4 213.5C479.7 213.8 480.9 214.6 481.6 215.3C482.2 216.1 482.7 217 483 218.1C483.4 219.1 483.6 220.3 483.7 221.5C483.8 222.7 483.8 224.1 483.6 225.4C483.4 226.7 483.1 228.2 482.6 229.5C482.1 230.9 481.5 232.3 480.9 233.6C480.2 234.9 479.3 236.1 478.5 237.3C477.6 238.4 476.6 239.5 475.6 240.4C474.6 241.3 473.5 242.1 472.4 242.7C471.4 243.3 470.3 243.8 469.2 244.1C468.2 244.3 467.1 244.4 466.1 244.3C465.2 244.3 463.9 243.7 463.4 243.6"/>
<path class="t" d="M481.7 213.4C482.1 213.8 483.3 214.6 484 215.4C484.6 216.2 485.2 217.1 485.6 218.2C485.9 219.3 486.2 220.6 486.3 221.9C486.4 223.1 486.3 224.6 486.1 226C485.9 227.4 485.6 228.9 485.1 230.4C484.6 231.8 484 233.3 483.3 234.7C482.5 236 481.7 237.4 480.7 238.6C479.8 239.8 478.7 240.9 477.7 241.9C476.6 242.8 475.5 243.7 474.3 244.3C473.2 245 472 245.5 470.9 245.8C469.8 246 468.7 246.1 467.7 246.1C466.6 246 465.3 245.4 464.8 245.2"/>
<ellipse class="g" cx="478.8" cy="205.6" rx="1.7" ry="2.7" transform="rotate(28 478.8 205.6)"/>
<ellipse class="g" cx="456.4" cy="244.6" rx="1.7" ry="2.7" transform="rotate(28 456.4 244.6)"/>
<ellipse class="g" cx="486.6" cy="245.7" rx="1.7" ry="2.7" transform="rotate(28 486.6 245.7)"/>
<path class="p" d="M515.3 125.4L514.9 125.1L514.5 124.6L514.2 124L514 123.3L513.9 122.5L514 121.6L514.1 120.7L514.4 119.8L514.8 118.9L515.3 118.1L515.8 117.3L516.4 116.6L517.1 116L517.7 115.6L518.4 115.3L519.1 115.2L519.7 115.2L520.3 115.4L546.3 128.1L546.8 128.4L547.2 128.9L547.5 129.5L547.7 130.2L547.8 131L547.7 131.9L547.5 132.8L547.3 133.7L546.9 134.6L546.4 135.4L545.9 136.2L545.3 136.9L544.6 137.5L543.9 137.9L543.2 138.2L542.6 138.3L542 138.3L541.4 138.1Z"/>
<ellipse class="p" cx="543.9" cy="133.1" rx="3.4" ry="5.6" transform="rotate(26 543.9 133.1)"/>
<ellipse class="n" cx="543.9" cy="133.1" rx="2.4" ry="4" transform="rotate(26 543.9 133.1)"/>
<path class="p" d="M194 134.4L191.6 133.2L189.6 131.4L188 128.9L186.8 125.9L186.1 122.4L186 118.6L186.3 114.6L187.1 110.5L188.4 106.3L190.2 102.3L192.3 98.6L194.7 95.2L197.4 92.4L200.3 90.1L203.2 88.4L206.1 87.4L208.9 87.1L211.5 87.6L225.8 92.2L228.1 93.4L230.1 95.2L231.7 97.7L232.9 100.7L233.6 104.1L233.8 107.9L233.4 112L232.6 116.1L231.3 120.2L229.5 124.2L227.4 128L225 131.3L222.3 134.2L219.5 136.5L216.5 138.2L213.6 139.2L210.8 139.4L208.2 139Z"/>
<ellipse class="p" cx="217" cy="115.6" rx="15" ry="25" transform="rotate(22 217 115.6)"/>
<path class="p" d="M218.6 116.6Q216.5 115.9 217.1 113.8L218.2 109.4Q218.8 107.3 221 107.4L226.5 107.7Q228.7 107.8 230.8 108.4L240.9 111.7Q243 112.4 242.4 114.5L241.3 118.8Q240.8 121 238.6 120.9L233 120.6Q230.8 120.5 228.7 119.9Z"/>
<path class="p" d="M214.5 124.7Q212.7 123.4 213.7 121.4L215.7 117.4Q216.7 115.4 218.8 116.1L228.9 119.4Q231 120 232.8 121.3L237.2 124.4Q239 125.7 238 127.6L235.9 131.7Q234.9 133.7 232.8 133L222.8 129.7Q220.7 129 218.9 127.8Z"/>
<path class="p" d="M220.8 108.5Q218.7 107.8 218.8 105.6L218.9 101.9Q218.9 99.7 220.9 98.8L227.6 95.8Q229.7 94.9 231.7 95.5L241.8 98.8Q243.9 99.5 243.9 101.7L243.8 105.5Q243.7 107.7 241.7 108.5L235 111.6Q233 112.5 230.9 111.8Z"/>
<path class="p" d="M208.6 131.4Q207.6 129.4 209 127.7L211.6 124.7Q213 123 215.1 123.6L225.1 126.9Q227.2 127.6 228.2 129.6L231.3 135.8Q232.3 137.7 230.9 139.4L228.4 142.5Q226.9 144.2 224.9 143.5L214.8 140.2Q212.7 139.5 211.7 137.5Z"/>
<path class="p" d="M217.7 95.5Q217.1 93.4 218.7 91.9L225.7 85.4Q227.3 83.9 229.4 84.6L239.5 87.9Q241.6 88.5 242.2 90.7L242.9 93.2Q243.4 95.3 241.8 96.8L234.9 103.3Q233.2 104.8 231.1 104.1L221.1 100.8Q219 100.1 218.4 98Z"/>
<path class="p" d="M202.2 135.3Q202 133.2 203.8 131.9L206.2 130.3Q208 129.1 210.1 129.8L220.1 133Q222.2 133.7 222.5 135.9L223.5 145Q223.7 147.1 221.9 148.4L219.6 150Q217.8 151.2 215.7 150.5L205.6 147.3Q203.5 146.6 203.3 144.4Z"/>
<path class="p" d="M215 90.9Q213.6 89.2 214.7 87.4L220.8 78.1Q222 76.2 224.1 76.9L234.2 80.2Q236.3 80.8 237.7 82.5L238.6 83.7Q240 85.4 238.8 87.2L232.7 96.5Q231.5 98.3 229.4 97.7L219.4 94.4Q217.3 93.7 215.9 92Z"/>
<path class="p" d="M196.3 150Q194.2 149.3 194.5 147.2L196.1 136.4Q196.4 134.2 198.6 133.8L200.2 133.4Q202.3 133 204.4 133.7L214.5 136.9Q216.6 137.6 216.3 139.8L214.7 150.6Q214.4 152.7 212.2 153.2L210.6 153.5Q208.5 154 206.4 153.3Z"/>
<path class="p" d="M210.8 88.4Q208.7 87.7 209.5 85.6L213.6 74.8Q214.4 72.7 216.5 73.4L226.5 76.7Q228.6 77.4 230.7 78.1L231.7 78.4Q233.8 79.1 233 81.1L228.9 92Q228.1 94 226 93.4L215.9 90.1Q213.8 89.4 211.7 88.7Z"/>
<path class="n" d="M226.9 76.8Q228.6 77.4 230.3 77.9L232.1 78.5Q233.8 79.1 232 78.5L221.2 75Q219.5 74.5 217.8 73.9L216.1 73.3Q214.4 72.7 216.1 73.3Z"/>
<path class="p" d="M188.1 148.2Q186 147.5 186.8 145.4L190.9 134.6Q191.7 132.5 193.7 133.2L203.8 136.5Q205.9 137.2 208 137.9L209 138.2Q211 138.9 210.3 140.9L206.1 151.8Q205.4 153.8 203.3 153.2L193.2 149.9Q191.1 149.2 189 148.5Z"/>
<path class="n" d="M203.7 153.3Q205.4 153.8 203.7 153.3L201.9 152.7Q200.2 152.1 198.5 151.6L187.7 148Q186 147.5 187.7 148.1L189.4 148.6Q191.1 149.2 192.8 149.8Z"/>
<path class="p" d="M205.2 89.6Q203.1 88.9 203.4 86.8L205 76Q205.3 73.8 207.5 73.4L209.1 73Q211.2 72.6 213.3 73.3L223.4 76.5Q225.5 77.2 225.2 79.4L223.6 90.1Q223.3 92.3 221.1 92.8L219.5 93.1Q217.4 93.6 215.3 92.9Z"/>
<path class="n" d="M217.9 77.9Q219.6 78.5 221.4 78.1L223.7 77.6Q225.5 77.2 223.8 76.7L213 73.1Q211.2 72.6 209.5 73L207.1 73.5Q205.3 73.8 207.1 74.4Z"/>
<path class="p" d="M181.2 142.9Q179.8 141.2 180.9 139.4L187 130.1Q188.2 128.2 190.3 128.9L200.4 132.2Q202.5 132.8 203.9 134.5L204.8 135.7Q206.2 137.3 205 139.2L198.9 148.5Q197.7 150.3 195.6 149.7L185.6 146.4Q183.5 145.7 182.1 144Z"/>
<path class="n" d="M196 149.8Q197.7 150.3 196.6 149L195.2 147.2Q194 145.8 192.3 145.3L181.5 141.8Q179.7 141.2 180.9 142.6L182.3 144.3Q183.5 145.7 185.2 146.3Z"/>
<path class="p" d="M196.2 81.6Q196 79.4 197.8 78.2L200.2 76.6Q202 75.3 204.1 76L214.1 79.3Q216.2 80 216.5 82.2L217.5 91.2Q217.7 93.4 215.9 94.6L213.6 96.3Q211.8 97.5 209.7 96.8L199.6 93.5Q197.5 92.9 197.2 90.7Z"/>
<path class="n" d="M208.5 83.5Q210.3 84.1 211.7 83L214.7 81Q216.2 80 214.5 79.4L203.7 75.9Q202 75.3 200.5 76.4L197.5 78.4Q196 79.4 197.7 80Z"/>
<path class="p" d="M176.9 133.4Q176.3 131.3 177.9 129.8L184.9 123.3Q186.5 121.8 188.6 122.5L198.7 125.8Q200.8 126.5 201.3 128.6L202 131.1Q202.6 133.2 201 134.7L194 141.2Q192.4 142.7 190.3 142L180.3 138.7Q178.2 138 177.6 135.9Z"/>
<path class="n" d="M190.7 142.1Q192.4 142.7 191.9 140.9L191 137.7Q190.6 135.9 188.8 135.4L178 131.8Q176.3 131.3 176.8 133L177.7 136.3Q178.2 138 179.9 138.6Z"/>
<path class="p" d="M188.4 90.8Q187.5 88.8 188.9 87.1L191.4 84.1Q192.8 82.4 194.9 83.1L205 86.4Q207.1 87 208 89L211.1 95.2Q212.1 97.2 210.7 98.9L208.2 101.9Q206.8 103.6 204.7 102.9L194.6 99.6Q192.5 99 191.5 97Z"/>
<path class="n" d="M200 92.9Q201.7 93.5 202.9 92.1L205.9 88.4Q207.1 87 205.3 86.5L194.5 83Q192.8 82.4 191.6 83.8L188.6 87.4Q187.5 88.8 189.2 89.4Z"/>
<path class="p" d="M177.9 127.7Q175.8 127.1 175.9 124.9L176 121.1Q176 118.9 178 118L184.7 115Q186.8 114.1 188.8 114.8L198.9 118.1Q201 118.7 201 120.9L200.9 124.7Q200.8 126.9 198.8 127.8L192.1 130.8Q190.1 131.7 188 131Z"/>
<path class="n" d="M188.4 131.1Q190.1 131.7 190.1 129.9L190.2 125.4Q190.3 123.6 188.6 123L177.7 119.5Q176 118.9 176 120.7L175.9 125.3Q175.8 127.1 177.5 127.6Z"/>
<path class="p" d="M182.6 102.2Q180.8 100.9 181.8 98.9L183.8 94.9Q184.8 92.9 186.9 93.6L197 96.9Q199.1 97.5 200.9 98.8L205.3 101.9Q207.1 103.2 206.1 105.1L204 109.2Q203 111.2 200.9 110.5L190.8 107.2Q188.8 106.5 187 105.3Z"/>
<path class="n" d="M193.3 105Q195 105.5 195.8 103.9L198.3 99.2Q199.1 97.5 197.4 97L186.5 93.5Q184.8 92.9 184 94.5L181.6 99.3Q180.8 100.9 182.5 101.4Z"/>
<path class="p" d="M178.8 114.9Q176.7 114.2 177.3 112L178.4 107.7Q179 105.6 181.2 105.7L186.7 105.9Q188.9 106 191 106.7L201.1 110Q203.2 110.7 202.6 112.8L201.5 117.1Q200.9 119.2 198.7 119.1L193.2 118.9Q191 118.8 188.9 118.1Z"/>
<path class="n" d="M189.3 118.3Q191 118.8 191.4 117.1L192.8 112Q193.2 110.2 191.5 109.7L180.7 106.1Q179 105.6 178.5 107.3L177.2 112.4Q176.7 114.2 178.4 114.7Z"/>
<path class="p" d="M232.4 114.4Q232.8 112.8 234.4 112.8L241.4 112.5Q243 112.4 242.6 113.9L241.2 119.4Q240.8 121 239.2 120.8L232.6 119.9Q231 119.7 231.4 118.1Z"/>
<path class="t" d="M234.2 114.6L240.6 114.5"/>
<path class="t" d="M233.3 118L239.5 118.7"/>
<path class="p" d="M229.9 122.3Q230.6 120.8 232 121.6L237.6 124.9Q239 125.7 238.2 127.1L235.7 132.2Q234.9 133.7 233.7 132.6L228.6 128.3Q227.4 127.2 228.1 125.8Z"/>
<path class="t" d="M231.3 123.5L236.5 126.6"/>
<path class="t" d="M229.7 126.7L234.4 130.6"/>
<path class="p" d="M233.1 106.7Q233.2 105.1 234.6 104.4L242.5 100.2Q243.9 99.5 243.9 101.1L243.7 106Q243.7 107.6 242.2 108.2L234.5 111.1Q233 111.6 233 110Z"/>
<path class="t" d="M235.1 105.9L241.9 102.4"/>
<path class="t" d="M235.1 109.1L241.7 106.5"/>
<path class="p" d="M225.7 129.5Q226.7 128.2 227.5 129.6L231.5 136.4Q232.3 137.7 231.3 139L228 142.9Q226.9 144.2 226.3 142.7L223.1 134.9Q222.4 133.4 223.5 132.1Z"/>
<path class="t" d="M226.6 131.4L230 137.4"/>
<path class="t" d="M224.4 134L227.3 140.7"/>
<path class="p" d="M232 100.2Q231.6 98.7 232.7 97.6L240.4 89.7Q241.6 88.5 242 90.1L243 93.7Q243.4 95.3 242.2 96.3L234.3 103Q233.1 104.1 232.6 102.5Z"/>
<path class="t" d="M233.8 98.3L240.1 92"/>
<path class="t" d="M234.6 101L241.1 95.4"/>
<path class="p" d="M220.3 135Q221.6 134.1 221.9 135.7L223.5 145.6Q223.7 147.1 222.4 148L219.1 150.3Q217.8 151.2 217.7 149.6L217 139Q216.9 137.4 218.2 136.5Z"/>
<path class="t" d="M220.7 137.4L222 145.6"/>
<path class="t" d="M218.3 139.1L219 147.7"/>
<path class="p" d="M229.2 95.5Q228.2 94.3 229 92.9L235.4 82.2Q236.3 80.9 237.3 82.1L239 84.1Q240 85.4 239.1 86.7L232.1 96.6Q231.2 97.9 230.1 96.7Z"/>
<path class="t" d="M230.5 92.8L235.6 84.4"/>
<path class="t" d="M232 94.6L237.5 86.7"/>
<path class="p" d="M214.5 138.1Q216 137.8 215.9 139.3L214.6 151.1Q214.4 152.7 212.8 153.1L210.1 153.6Q208.5 154 208.8 152.4L211 140.3Q211.3 138.8 212.9 138.4Z"/>
<path class="t" d="M214.4 140.8L213.3 150.2"/>
<path class="t" d="M212.1 141.3L210.4 150.8"/>
<path class="p" d="M225 93Q223.5 92.5 224 91L228.1 78.9Q228.6 77.4 230.2 77.9L232.2 78.6Q233.8 79.1 233.1 80.6L228.2 92.4Q227.6 93.9 226.1 93.4Z"/>
<path class="t" d="M225.6 90L228.9 80.6"/>
<path class="t" d="M227.6 90.7L231.4 81.5"/>
<path class="p" d="M209 138.2Q210.5 138.7 210 140.2L205.9 152.3Q205.4 153.8 203.8 153.3L201.8 152.6Q200.2 152.1 200.9 150.6L205.8 138.8Q206.4 137.3 207.9 137.8Z"/>
<path class="t" d="M208.4 141.2L205.1 150.6"/>
<path class="t" d="M206.4 140.5L202.6 149.7"/>
<path class="p" d="M219.5 93.1Q218 93.4 218.1 91.9L219.4 80.1Q219.6 78.5 221.2 78.1L223.9 77.6Q225.5 77.2 225.2 78.8L223 90.9Q222.7 92.4 221.1 92.8Z"/>
<path class="t" d="M219.6 90.4L220.7 81"/>
<path class="t" d="M221.9 89.9L223.6 80.4"/>
<path class="p" d="M204.8 135.7Q205.8 136.9 205 138.3L198.6 149Q197.7 150.3 196.7 149.1L195 147.1Q194 145.8 194.9 144.5L201.9 134.6Q202.8 133.3 203.9 134.5Z"/>
<path class="t" d="M203.5 138.4L198.4 146.8"/>
<path class="t" d="M202 136.6L196.5 144.5"/>
<path class="p" d="M213.7 96.2Q212.4 97.1 212.1 95.5L210.5 85.6Q210.3 84.1 211.6 83.2L214.9 80.9Q216.2 80 216.3 81.6L217 92.2Q217.1 93.8 215.8 94.7Z"/>
<path class="t" d="M213.3 93.8L212 85.6"/>
<path class="t" d="M215.7 92.1L215 83.5"/>
<path class="p" d="M202 131Q202.4 132.5 201.3 133.6L193.6 141.5Q192.4 142.7 192 141.1L191 137.5Q190.6 135.9 191.8 134.9L199.7 128.2Q200.9 127.1 201.4 128.7Z"/>
<path class="t" d="M200.2 132.9L193.9 139.2"/>
<path class="t" d="M199.4 130.2L192.9 135.8"/>
<path class="p" d="M208.3 101.7Q207.3 103 206.5 101.6L202.5 94.8Q201.7 93.5 202.7 92.2L206 88.3Q207.1 87 207.7 88.5L210.9 96.3Q211.6 97.8 210.5 99.1Z"/>
<path class="t" d="M207.4 99.8L204 93.8"/>
<path class="t" d="M209.6 97.2L206.7 90.5"/>
<path class="p" d="M200.9 124.5Q200.8 126.1 199.4 126.8L191.5 131Q190.1 131.7 190.1 130.1L190.3 125.2Q190.3 123.6 191.8 123L199.5 120.1Q201 119.6 201 121.2Z"/>
<path class="t" d="M198.9 125.3L192.1 128.8"/>
<path class="t" d="M198.9 122.1L192.3 124.7"/>
<path class="p" d="M204.1 108.9Q203.4 110.4 202 109.6L196.4 106.3Q195 105.5 195.8 104.1L198.3 99Q199.1 97.5 200.3 98.6L205.4 102.9Q206.6 104 205.9 105.4Z"/>
<path class="t" d="M202.7 107.7L197.5 104.6"/>
<path class="t" d="M204.3 104.5L199.6 100.6"/>
<path class="p" d="M201.6 116.8Q201.2 118.4 199.6 118.4L192.6 118.7Q191 118.8 191.4 117.3L192.8 111.8Q193.2 110.2 194.8 110.4L201.4 111.3Q203 111.5 202.6 113.1Z"/>
<path class="t" d="M199.8 116.6L193.4 116.7"/>
<path class="t" d="M200.7 113.2L194.5 112.5"/>
<ellipse class="p" cx="217" cy="115.6" rx="15.3" ry="25.5" transform="rotate(22 217 115.6)"/>
<ellipse class="n" cx="217.5" cy="115.8" rx="14.1" ry="23.5" transform="rotate(22 217.5 115.8)"/>
<ellipse class="p" cx="217" cy="115.6" rx="10.5" ry="17.5" transform="rotate(22 217 115.6)"/>
<path class="n" d="M222.5 100C222.9 100.4 224 101.4 224.5 102.3C225 103.3 225.4 104.4 225.7 105.7C225.9 106.9 226.1 108.3 226 109.7C226 111.1 225.8 112.7 225.5 114.2C225.1 115.6 224.7 117.2 224.1 118.6C223.5 120.1 222.8 121.5 222 122.8C221.2 124.1 220.2 125.4 219.3 126.4C218.3 127.5 217.3 128.4 216.2 129.1C215.2 129.8 214.1 130.4 213 130.7C212 131 210.5 131 210 131"/>
<ellipse class="p" cx="224.1" cy="127.9" rx="1" ry="1.6" transform="rotate(22 224.1 127.9)"/>
<ellipse class="p" cx="203.2" cy="122.8" rx="1" ry="1.6" transform="rotate(22 203.2 122.8)"/>
<ellipse class="p" cx="223.7" cy="96.2" rx="1" ry="1.6" transform="rotate(22 223.7 96.2)"/>
<path class="p" d="M165.4 101.9Q165 100 166 98.8L166 98.8Q167 97.6 168.9 98.1L177.1 100Q179 100.5 179.3 102.5L179.7 105Q180 107 178.8 108.2L178.8 108.2Q177.5 109.5 175.6 109L168.4 107Q166.5 106.5 166.1 104.6Z"/>
<path class="t" d="M167.3 98.5L168.8 105.8"/>
<path class="t" d="M169.5 99L171 106.5"/>
<path class="n" d="M233 91Q240 87.5 248 84.5" style="stroke-width:2.6"/>
<path class="n" d="M236 94.5Q243 90.5 250 87"/>
<path d="M246.5 84.6C247.6 84.2 250.8 82.8 253 82C255.2 81.2 257.5 80.7 259.4 79.6C261.3 78.5 262.7 77.1 264.4 75.4C266.1 73.7 268.3 70.8 269.7 69.4C271.1 68 272 67.4 272.5 67" fill="none" stroke="#1c1c1c" stroke-width="6.3" stroke-linecap="round" stroke-linejoin="round"/>
<path d="M246.5 84.6C247.6 84.2 250.8 82.8 253 82C255.2 81.2 257.5 80.7 259.4 79.6C261.3 78.5 262.7 77.1 264.4 75.4C266.1 73.7 268.3 70.8 269.7 69.4C271.1 68 272 67.4 272.5 67" fill="none" stroke="#fefefe" stroke-width="4.1" stroke-linecap="round" stroke-linejoin="round"/>
<path class="p" d="M218.2 63.4L226.4 54.5L235.9 58.9L237.2 54L240.3 51.8L243.6 52.6L244.2 56.5L241.6 61.5L247.9 75.4L251 80.5L244 82L235.3 77L227 72.6L219.5 68.4Z"/>
<path class="n" d="M218.2 63.4L227.5 67.6L235.9 58.9"/>
<path class="n" d="M227.5 67.6L227 72.6"/>
<path class="t" d="M227.5 67.6L233 66L241.6 61.5"/>
<path class="t" d="M235.3 77L241.6 61.5"/>
<path class="t" d="M230 73.8L233 70L236 76.3"/>
<ellipse class="p" cx="240.4" cy="56.3" rx="1.5" ry="2.3" transform="rotate(20 240.4 56.3)"/>
<ellipse class="g" cx="229" cy="70" rx="1.2" ry="1.5"/>
<path d="M281 63C283.1 61.3 289.8 55.5 293.8 52.7C297.8 49.9 300.9 48 305 46C309.1 44 313.5 42.3 318.4 40.4C323.2 38.5 330.3 36.3 334.1 34.8C337.9 33.3 339.9 32 341 31.5" fill="none" stroke="#1c1c1c" stroke-width="6.5" stroke-linecap="butt" stroke-linejoin="round"/>
<path d="M281 63C283.1 61.3 289.8 55.5 293.8 52.7C297.8 49.9 300.9 48 305 46C309.1 44 313.5 42.3 318.4 40.4C323.2 38.5 330.3 36.3 334.1 34.8C337.9 33.3 339.9 32 341 31.5" fill="none" stroke="#fefefe" stroke-width="4.3" stroke-linecap="butt" stroke-linejoin="round"/>
<g transform="translate(304.5 46.2) rotate(-28)"><rect class="p" x="-4.5" y="-3.9" width="9" height="7.8" rx="2.5"/><path class="t" d="M-1 -3.5Q1 0 -1 3.5"/></g>
<g transform="translate(335 34.4) rotate(-22)"><rect class="p" x="-4.5" y="-3.9" width="9" height="7.8" rx="2.5"/><path class="t" d="M-1 -3.5Q1 0 -1 3.5"/></g>
<path class="n" d="M339.5 32.5Q347 28 355.5 19" style="stroke-width:3.2;stroke:#111"/>
<path class="n" d="M341 35Q350 33.5 359 30.6" style="stroke-width:1.6"/>
<path class="n" d="M341 36.6Q351 36 359.5 33.6" style="stroke-width:.9"/>
<path class="p" d="M354.4 13.7L364.2 7.3L372.6 9.8L373 17.8L366.6 25.6L358.6 25.8L354.8 21.6Z"/>
<path class="n" d="M354.4 13.7L358 17L366.4 15.8L372.6 9.8"/>
<path class="n" d="M366.4 15.8L366.6 25.6"/>
<path class="t" d="M361.5 12.2L364.6 9.6"/>
<path class="g" d="M356.6 17.2L361.8 17.8L364.4 21L362 24L357.6 23.4Z" style="fill:#555"/>
<ellipse class="p" cx="360.6" cy="20.6" rx="1.6" ry="1.2" style="stroke-width:.7"/>
<g transform="translate(365 30.1) rotate(-25)"><rect class="p" x="-7" y="-3.2" width="14" height="6.4" rx="2.4"/><path class="t" d="M-5 1.2H5"/></g>
<g transform="translate(277.3 66.3) rotate(-33)"><ellipse class="p" cx="-3.8" cy="3.4" rx="4.8" ry="4.4" style="stroke-width:1.3"/><ellipse class="p" cx="-3.5" cy="3.6" rx="2.3" ry="2"/><rect class="p" x="-6.5" y="-5.2" width="13" height="9.4" rx="1.8"/><path class="t" d="M-2.5 -5V4M-.5 -5V4M1.5 -5V4M3.5 -5V4"/></g>
<path class="p" d="M291.4 79.5L291.2 79.4L291.1 79.3L291 79.1L290.9 79L290.9 78.8L290.9 78.6L290.9 78.3L290.9 78.1L291 77.9L291.1 77.7L291.2 77.5L291.4 77.4L291.6 77.2L291.7 77.1L291.9 77.1L292.1 77.1L292.3 77.1L292.4 77.1L298.4 79.8L298.5 79.8L298.6 80L298.7 80.1L298.8 80.3L298.9 80.5L298.9 80.7L298.9 80.9L298.8 81.1L298.7 81.3L298.6 81.5L298.5 81.7L298.3 81.9L298.2 82L298 82.1L297.8 82.2L297.6 82.2L297.5 82.2L297.3 82.1Z"/>
<ellipse class="p" cx="297.8" cy="80.9" rx="1" ry="1.3" transform="rotate(24 297.8 80.9)"/>
<path class="t" d="M292.8 80.1C292.8 80 292.4 79.8 292.4 79.5C292.3 79.3 292.3 78.8 292.5 78.6C292.6 78.3 292.9 78 293.1 77.8C293.3 77.7 293.8 77.8 293.9 77.8"/>
<path class="t" d="M294.3 80.8C294.2 80.7 293.9 80.4 293.8 80.2C293.8 79.9 293.8 79.5 293.9 79.2C294.1 78.9 294.3 78.6 294.6 78.5C294.8 78.4 295.2 78.4 295.4 78.4"/>
<path class="t" d="M295.8 81.4C295.7 81.3 295.3 81.1 295.3 80.8C295.2 80.6 295.3 80.1 295.4 79.9C295.5 79.6 295.8 79.3 296 79.1C296.3 79 296.7 79.1 296.8 79.1"/>
<path class="p" d="M296.7 83.6L296.3 83.4L296.1 83.1L295.8 82.8L295.7 82.4L295.6 82L295.5 81.5L295.6 81L295.7 80.5L295.9 80.1L296.1 79.6L296.4 79.2L296.7 78.9L297.1 78.6L297.5 78.4L297.9 78.2L298.3 78.2L298.7 78.2L299 78.3L300.5 79L300.8 79.1L301.1 79.4L301.3 79.7L301.5 80.1L301.6 80.6L301.6 81L301.6 81.5L301.5 82L301.3 82.5L301.1 82.9L300.8 83.3L300.4 83.7L300.1 84L299.7 84.2L299.3 84.3L298.9 84.4L298.5 84.4L298.1 84.2Z"/>
<ellipse class="p" cx="299.3" cy="81.6" rx="2.2" ry="2.9" transform="rotate(24 299.3 81.6)"/>
<ellipse class="g" cx="299.3" cy="81.6" rx="1.1" ry="1.5" transform="rotate(24 299.3 81.6)"/>
<path class="p" d="M289.9 94.9L289.7 94.8L289.6 94.7L289.5 94.5L289.4 94.4L289.4 94.2L289.4 94L289.4 93.7L289.4 93.5L289.5 93.3L289.6 93.1L289.7 92.9L289.9 92.8L290.1 92.6L290.2 92.5L290.4 92.5L290.6 92.5L290.8 92.5L290.9 92.5L296.9 95.2L297 95.2L297.1 95.4L297.2 95.5L297.3 95.7L297.4 95.9L297.4 96.1L297.4 96.3L297.3 96.5L297.2 96.7L297.1 96.9L297 97.1L296.8 97.3L296.7 97.4L296.5 97.5L296.3 97.6L296.1 97.6L296 97.6L295.8 97.5Z"/>
<ellipse class="p" cx="296.3" cy="96.3" rx="1" ry="1.3" transform="rotate(24 296.3 96.3)"/>
<path class="t" d="M291.3 95.5C291.3 95.4 290.9 95.2 290.9 94.9C290.8 94.7 290.8 94.2 291 94C291.1 93.7 291.4 93.4 291.6 93.2C291.8 93.1 292.3 93.2 292.4 93.2"/>
<path class="t" d="M292.8 96.2C292.7 96.1 292.4 95.8 292.3 95.6C292.3 95.3 292.3 94.9 292.4 94.6C292.6 94.3 292.8 94 293.1 93.9C293.3 93.8 293.7 93.8 293.9 93.8"/>
<path class="t" d="M294.3 96.8C294.2 96.7 293.8 96.5 293.8 96.2C293.7 96 293.8 95.5 293.9 95.3C294 95 294.3 94.7 294.5 94.5C294.8 94.4 295.2 94.5 295.3 94.5"/>
<path class="p" d="M295.2 99L294.8 98.8L294.6 98.5L294.3 98.2L294.2 97.8L294.1 97.4L294 96.9L294.1 96.4L294.2 95.9L294.4 95.5L294.6 95L294.9 94.6L295.2 94.3L295.6 94L296 93.8L296.4 93.6L296.8 93.6L297.2 93.6L297.5 93.7L299 94.4L299.3 94.5L299.6 94.8L299.8 95.1L300 95.5L300.1 96L300.1 96.4L300.1 96.9L300 97.4L299.8 97.9L299.6 98.3L299.3 98.7L298.9 99.1L298.6 99.4L298.2 99.6L297.8 99.7L297.4 99.8L297 99.8L296.6 99.6Z"/>
<ellipse class="p" cx="297.8" cy="97" rx="2.2" ry="2.9" transform="rotate(24 297.8 97)"/>
<ellipse class="g" cx="297.8" cy="97" rx="1.1" ry="1.5" transform="rotate(24 297.8 97)"/>
<path class="p" d="M247.7 117.7L247.5 117.6L247.4 117.5L247.3 117.3L247.2 117.2L247.2 117L247.2 116.8L247.2 116.5L247.2 116.3L247.3 116.1L247.4 115.9L247.5 115.7L247.7 115.6L247.9 115.4L248 115.3L248.2 115.3L248.4 115.3L248.6 115.3L248.7 115.3L254.7 118L254.8 118L254.9 118.2L255 118.3L255.1 118.5L255.2 118.7L255.2 118.9L255.2 119.1L255.1 119.3L255 119.5L254.9 119.7L254.8 119.9L254.6 120.1L254.5 120.2L254.3 120.3L254.1 120.4L253.9 120.4L253.8 120.4L253.6 120.3Z"/>
<ellipse class="p" cx="254.1" cy="119.1" rx="1" ry="1.3" transform="rotate(24 254.1 119.1)"/>
<path class="t" d="M249.1 118.3C249.1 118.2 248.7 118 248.7 117.7C248.6 117.5 248.6 117 248.8 116.8C248.9 116.5 249.2 116.2 249.4 116C249.6 115.9 250.1 116 250.2 116"/>
<path class="t" d="M250.6 119C250.5 118.9 250.2 118.6 250.1 118.4C250.1 118.1 250.1 117.7 250.2 117.4C250.4 117.1 250.6 116.8 250.9 116.7C251.1 116.6 251.5 116.6 251.7 116.6"/>
<path class="t" d="M252.1 119.6C252 119.5 251.6 119.3 251.6 119C251.5 118.8 251.6 118.3 251.7 118.1C251.8 117.8 252.1 117.5 252.3 117.3C252.6 117.2 253 117.3 253.1 117.3"/>
<path class="p" d="M253 121.8L252.6 121.6L252.4 121.3L252.1 121L252 120.6L251.9 120.2L251.8 119.7L251.9 119.2L252 118.7L252.2 118.3L252.4 117.8L252.7 117.4L253 117.1L253.4 116.8L253.8 116.6L254.2 116.4L254.6 116.4L255 116.4L255.3 116.5L256.8 117.2L257.1 117.3L257.4 117.6L257.6 117.9L257.8 118.3L257.9 118.8L257.9 119.2L257.9 119.7L257.8 120.2L257.6 120.7L257.4 121.1L257.1 121.5L256.7 121.9L256.4 122.2L256 122.4L255.6 122.5L255.2 122.6L254.8 122.6L254.4 122.4Z"/>
<ellipse class="p" cx="255.6" cy="119.8" rx="2.2" ry="2.9" transform="rotate(24 255.6 119.8)"/>
<ellipse class="g" cx="255.6" cy="119.8" rx="1.1" ry="1.5" transform="rotate(24 255.6 119.8)"/>
<path class="p" d="M246.5 132.1L246.3 132L246.2 131.9L246.1 131.7L246 131.6L246 131.4L246 131.2L246 130.9L246 130.7L246.1 130.5L246.2 130.3L246.3 130.1L246.5 130L246.7 129.8L246.8 129.7L247 129.7L247.2 129.7L247.4 129.7L247.5 129.7L253.5 132.4L253.6 132.4L253.7 132.6L253.8 132.7L253.9 132.9L254 133.1L254 133.3L254 133.5L253.9 133.7L253.8 133.9L253.7 134.1L253.6 134.3L253.4 134.5L253.3 134.6L253.1 134.7L252.9 134.8L252.7 134.8L252.6 134.8L252.4 134.7Z"/>
<ellipse class="p" cx="252.9" cy="133.5" rx="1" ry="1.3" transform="rotate(24 252.9 133.5)"/>
<path class="t" d="M247.9 132.7C247.9 132.6 247.5 132.4 247.5 132.1C247.4 131.9 247.4 131.4 247.6 131.2C247.7 130.9 248 130.6 248.2 130.4C248.4 130.3 248.9 130.4 249 130.4"/>
<path class="t" d="M249.4 133.4C249.3 133.3 249 133 248.9 132.8C248.9 132.5 248.9 132.1 249 131.8C249.2 131.5 249.4 131.2 249.7 131.1C249.9 131 250.3 131 250.5 131"/>
<path class="t" d="M250.9 134C250.8 133.9 250.4 133.7 250.4 133.4C250.3 133.2 250.4 132.7 250.5 132.5C250.6 132.2 250.9 131.9 251.1 131.7C251.4 131.6 251.8 131.7 251.9 131.7"/>
<path class="p" d="M251.8 136.2L251.4 136L251.2 135.7L250.9 135.4L250.8 135L250.7 134.6L250.6 134.1L250.7 133.6L250.8 133.1L251 132.7L251.2 132.2L251.5 131.8L251.8 131.5L252.2 131.2L252.6 131L253 130.8L253.4 130.8L253.8 130.8L254.1 130.9L255.6 131.6L255.9 131.7L256.2 132L256.4 132.3L256.6 132.7L256.7 133.2L256.7 133.6L256.7 134.1L256.6 134.6L256.4 135.1L256.2 135.5L255.9 135.9L255.5 136.3L255.2 136.6L254.8 136.8L254.4 136.9L254 137L253.6 137L253.2 136.8Z"/>
<ellipse class="p" cx="254.4" cy="134.2" rx="2.2" ry="2.9" transform="rotate(24 254.4 134.2)"/>
<ellipse class="g" cx="254.4" cy="134.2" rx="1.1" ry="1.5" transform="rotate(24 254.4 134.2)"/>
<path class="p" d="M236.3 145.1L236.1 145L236 144.9L235.9 144.7L235.8 144.6L235.8 144.4L235.8 144.2L235.8 143.9L235.8 143.7L235.9 143.5L236 143.3L236.1 143.1L236.3 143L236.5 142.8L236.6 142.7L236.8 142.7L237 142.7L237.2 142.7L237.3 142.7L243.3 145.4L243.4 145.4L243.5 145.6L243.6 145.7L243.7 145.9L243.8 146.1L243.8 146.3L243.8 146.5L243.7 146.7L243.6 146.9L243.5 147.1L243.4 147.3L243.2 147.5L243.1 147.6L242.9 147.7L242.7 147.8L242.5 147.8L242.4 147.8L242.2 147.7Z"/>
<ellipse class="p" cx="242.7" cy="146.5" rx="1" ry="1.3" transform="rotate(24 242.7 146.5)"/>
<path class="t" d="M237.7 145.7C237.7 145.6 237.3 145.4 237.3 145.1C237.2 144.9 237.2 144.4 237.4 144.2C237.5 143.9 237.8 143.6 238 143.4C238.2 143.3 238.7 143.4 238.8 143.4"/>
<path class="t" d="M239.2 146.4C239.1 146.3 238.8 146 238.7 145.8C238.7 145.5 238.7 145.1 238.8 144.8C239 144.5 239.2 144.2 239.5 144.1C239.7 144 240.1 144 240.3 144"/>
<path class="t" d="M240.7 147C240.6 146.9 240.2 146.7 240.2 146.4C240.1 146.2 240.2 145.7 240.3 145.5C240.4 145.2 240.7 144.9 240.9 144.7C241.2 144.6 241.6 144.7 241.7 144.7"/>
<path class="p" d="M241.6 149.2L241.2 149L241 148.7L240.7 148.4L240.6 148L240.5 147.6L240.4 147.1L240.5 146.6L240.6 146.1L240.8 145.7L241 145.2L241.3 144.8L241.6 144.5L242 144.2L242.4 144L242.8 143.8L243.2 143.8L243.6 143.8L243.9 143.9L245.4 144.6L245.7 144.7L246 145L246.2 145.3L246.4 145.7L246.5 146.2L246.5 146.6L246.5 147.1L246.4 147.6L246.2 148.1L246 148.5L245.7 148.9L245.3 149.3L245 149.6L244.6 149.8L244.2 149.9L243.8 150L243.4 150L243 149.8Z"/>
<ellipse class="p" cx="244.2" cy="147.2" rx="2.2" ry="2.9" transform="rotate(24 244.2 147.2)"/>
<ellipse class="g" cx="244.2" cy="147.2" rx="1.1" ry="1.5" transform="rotate(24 244.2 147.2)"/>
<path class="p" d="M330.8 155.5L330.4 155.3L330.1 154.9L329.9 154.4L329.7 153.9L329.7 153.2L329.7 152.5L329.8 151.8L330 151L330.3 150.3L330.6 149.6L331 148.9L331.5 148.3L332 147.8L332.5 147.4L333 147.1L333.5 146.9L334 146.9L334.4 147L340.4 149.6L340.8 149.8L341.1 150.2L341.3 150.6L341.5 151.2L341.5 151.8L341.5 152.5L341.4 153.3L341.2 154L340.9 154.8L340.6 155.5L340.2 156.2L339.7 156.8L339.2 157.3L338.7 157.7L338.2 158L337.7 158.1L337.2 158.1L336.8 158Z"/>
<ellipse class="p" cx="338.6" cy="153.8" rx="2.5" ry="4.6" transform="rotate(23 338.6 153.8)"/>
<path class="t" d="M331.5 155.7C331.4 155.5 331 155 330.9 154.5C330.8 154 330.7 153.4 330.8 152.7C330.9 152.1 331.1 151.4 331.4 150.7C331.7 150.1 332.1 149.4 332.4 148.9C332.8 148.4 333.3 148 333.8 147.7C334.2 147.5 334.9 147.4 335.1 147.4"/>
<path class="p" d="M337.5 156.4L337.3 156.2L337.1 156L336.9 155.7L336.9 155.4L336.8 155L336.8 154.6L336.9 154.1L337 153.7L337.2 153.2L337.4 152.8L337.6 152.4L337.9 152L338.2 151.7L338.5 151.4L338.8 151.3L339.1 151.2L339.4 151.2L339.7 151.2L347.5 154.5L347.7 154.7L347.9 154.9L348.1 155.2L348.2 155.5L348.2 155.9L348.2 156.4L348.1 156.8L348 157.3L347.8 157.7L347.6 158.2L347.4 158.6L347.1 158.9L346.8 159.2L346.5 159.5L346.2 159.7L345.9 159.7L345.6 159.8L345.3 159.7Z"/>
<ellipse class="p" cx="346.4" cy="157.1" rx="1.5" ry="2.8" transform="rotate(23 346.4 157.1)"/>
<path class="t" d="M338.9 157C338.8 156.8 338.3 156.3 338.2 155.8C338.2 155.3 338.3 154.4 338.6 153.8C338.8 153.2 339.3 152.5 339.8 152.1C340.2 151.8 340.9 151.9 341.1 151.8"/>
<path class="t" d="M340.3 157.5C340.2 157.4 339.6 156.9 339.6 156.4C339.5 155.8 339.7 155 339.9 154.4C340.2 153.8 340.7 153.1 341.1 152.7C341.6 152.4 342.2 152.4 342.5 152.4"/>
<path class="t" d="M341.6 158.1C341.5 157.9 341 157.5 341 157C340.9 156.4 341.1 155.6 341.3 155C341.6 154.3 342.1 153.6 342.5 153.3C342.9 153 343.6 153 343.8 153"/>
<path class="t" d="M343 158.7C342.9 158.5 342.4 158.1 342.3 157.5C342.3 157 342.4 156.2 342.7 155.5C343 154.9 343.5 154.2 343.9 153.9C344.3 153.6 345 153.6 345.2 153.6"/>
<ellipse class="t" cx="346.4" cy="157.1" rx="0.9" ry="1.6" transform="rotate(23 346.4 157.1)"/>
<path class="p" d="M311.8 173.1L311.4 172.9L311.1 172.5L310.9 172L310.7 171.5L310.7 170.8L310.7 170.1L310.8 169.4L311 168.6L311.3 167.9L311.6 167.2L312 166.5L312.5 165.9L313 165.4L313.5 165L314 164.7L314.5 164.5L315 164.5L315.4 164.6L321.4 167.2L321.8 167.4L322.1 167.8L322.3 168.2L322.5 168.8L322.5 169.4L322.5 170.1L322.4 170.9L322.2 171.6L321.9 172.4L321.6 173.1L321.2 173.8L320.7 174.4L320.2 174.9L319.7 175.3L319.2 175.6L318.7 175.7L318.2 175.7L317.8 175.6Z"/>
<ellipse class="p" cx="319.6" cy="171.4" rx="2.5" ry="4.6" transform="rotate(23 319.6 171.4)"/>
<path class="t" d="M312.5 173.3C312.4 173.1 312 172.6 311.9 172.1C311.8 171.6 311.7 171 311.8 170.3C311.9 169.7 312.1 169 312.4 168.3C312.7 167.7 313.1 167 313.4 166.5C313.8 166 314.3 165.6 314.8 165.3C315.2 165.1 315.9 165 316.1 165"/>
<path class="p" d="M318.5 174L318.3 173.8L318.1 173.6L317.9 173.3L317.9 173L317.8 172.6L317.8 172.2L317.9 171.7L318 171.3L318.2 170.8L318.4 170.4L318.6 170L318.9 169.6L319.2 169.3L319.5 169L319.8 168.9L320.1 168.8L320.4 168.8L320.7 168.8L328.5 172.1L328.7 172.3L328.9 172.5L329.1 172.8L329.2 173.1L329.2 173.5L329.2 174L329.1 174.4L329 174.9L328.8 175.3L328.6 175.8L328.4 176.2L328.1 176.5L327.8 176.8L327.5 177.1L327.2 177.3L326.9 177.3L326.6 177.4L326.3 177.3Z"/>
<ellipse class="p" cx="327.4" cy="174.7" rx="1.5" ry="2.8" transform="rotate(23 327.4 174.7)"/>
<path class="t" d="M319.9 174.6C319.8 174.4 319.3 173.9 319.2 173.4C319.2 172.9 319.3 172 319.6 171.4C319.8 170.8 320.3 170.1 320.8 169.7C321.2 169.4 321.9 169.5 322.1 169.4"/>
<path class="t" d="M321.3 175.1C321.2 175 320.6 174.5 320.6 174C320.5 173.4 320.7 172.6 320.9 172C321.2 171.4 321.7 170.7 322.1 170.3C322.6 170 323.2 170 323.5 170"/>
<path class="t" d="M322.6 175.7C322.5 175.5 322 175.1 322 174.6C321.9 174 322.1 173.2 322.3 172.6C322.6 171.9 323.1 171.2 323.5 170.9C323.9 170.6 324.6 170.6 324.8 170.6"/>
<path class="t" d="M324 176.3C323.9 176.1 323.4 175.7 323.3 175.1C323.3 174.6 323.4 173.8 323.7 173.1C324 172.5 324.5 171.8 324.9 171.5C325.3 171.2 326 171.2 326.2 171.2"/>
<ellipse class="t" cx="327.4" cy="174.7" rx="0.9" ry="1.6" transform="rotate(23 327.4 174.7)"/>
<path class="p" d="M332.8 170.9L332.4 170.7L332.1 170.3L331.9 169.8L331.7 169.3L331.7 168.6L331.7 167.9L331.8 167.2L332 166.4L332.3 165.7L332.6 165L333 164.3L333.5 163.7L334 163.2L334.5 162.8L335 162.5L335.5 162.3L336 162.3L336.4 162.4L342.4 165L342.8 165.2L343.1 165.6L343.3 166L343.5 166.6L343.5 167.2L343.5 167.9L343.4 168.7L343.2 169.4L342.9 170.2L342.6 170.9L342.2 171.6L341.7 172.2L341.2 172.7L340.7 173.1L340.2 173.4L339.7 173.5L339.2 173.5L338.8 173.4Z"/>
<ellipse class="p" cx="340.6" cy="169.2" rx="2.5" ry="4.6" transform="rotate(23 340.6 169.2)"/>
<path class="t" d="M333.5 171.1C333.4 170.9 333 170.4 332.9 169.9C332.8 169.4 332.7 168.8 332.8 168.1C332.9 167.5 333.1 166.8 333.4 166.1C333.7 165.5 334.1 164.8 334.4 164.3C334.8 163.8 335.3 163.4 335.8 163.1C336.2 162.9 336.9 162.8 337.1 162.8"/>
<path class="p" d="M339.5 171.8L339.3 171.6L339.1 171.4L338.9 171.1L338.9 170.8L338.8 170.4L338.8 170L338.9 169.5L339 169.1L339.2 168.6L339.4 168.2L339.6 167.8L339.9 167.4L340.2 167.1L340.5 166.8L340.8 166.7L341.1 166.6L341.4 166.6L341.7 166.6L349.5 169.9L349.7 170.1L349.9 170.3L350.1 170.6L350.2 170.9L350.2 171.3L350.2 171.8L350.1 172.2L350 172.7L349.8 173.1L349.6 173.6L349.4 174L349.1 174.3L348.8 174.6L348.5 174.9L348.2 175.1L347.9 175.1L347.6 175.2L347.3 175.1Z"/>
<ellipse class="p" cx="348.4" cy="172.5" rx="1.5" ry="2.8" transform="rotate(23 348.4 172.5)"/>
<path class="t" d="M340.9 172.4C340.8 172.2 340.3 171.7 340.2 171.2C340.2 170.7 340.3 169.8 340.6 169.2C340.8 168.6 341.3 167.9 341.8 167.5C342.2 167.2 342.9 167.3 343.1 167.2"/>
<path class="t" d="M342.3 172.9C342.2 172.8 341.6 172.3 341.6 171.8C341.5 171.2 341.7 170.4 341.9 169.8C342.2 169.2 342.7 168.5 343.1 168.1C343.6 167.8 344.2 167.8 344.5 167.8"/>
<path class="t" d="M343.6 173.5C343.5 173.3 343 172.9 343 172.4C342.9 171.8 343.1 171 343.3 170.4C343.6 169.7 344.1 169 344.5 168.7C344.9 168.4 345.6 168.4 345.8 168.4"/>
<path class="t" d="M345 174.1C344.9 173.9 344.4 173.5 344.3 172.9C344.3 172.4 344.4 171.6 344.7 170.9C345 170.3 345.5 169.6 345.9 169.3C346.3 169 347 169 347.2 169"/>
<ellipse class="t" cx="348.4" cy="172.5" rx="0.9" ry="1.6" transform="rotate(23 348.4 172.5)"/>
<path class="q" d="M141.3 80.4L140.8 80.1L140.4 79.7L140.1 79.3L139.9 78.7L139.8 78L139.8 77.3L139.9 76.6L140.2 75.8L140.5 75.1L140.8 74.4L141.3 73.7L141.8 73.2L142.4 72.7L143 72.3L143.6 72.1L144.2 72L144.7 72L145.3 72.1L149.9 74.1L150.3 74.4L150.7 74.7L151 75.2L151.2 75.8L151.3 76.5L151.3 77.2L151.2 77.9L151 78.7L150.7 79.4L150.3 80.1L149.8 80.8L149.3 81.3L148.7 81.8L148.1 82.2L147.5 82.4L146.9 82.5L146.4 82.5L145.9 82.4Z"/>
<ellipse class="q" cx="147.9" cy="78.2" rx="3" ry="4.6" transform="rotate(28 147.9 78.2)"/>
<path class="q" d="M145.1 83.9L144.5 83.5L144 83L143.6 82.3L143.3 81.5L143.2 80.6L143.2 79.6L143.3 78.6L143.6 77.6L144 76.6L144.6 75.6L145.2 74.8L145.9 74L146.7 73.3L147.5 72.8L148.3 72.5L149.1 72.3L149.9 72.4L150.6 72.6L152.4 73.3L153.1 73.7L153.6 74.2L154 74.9L154.3 75.7L154.4 76.6L154.4 77.6L154.2 78.6L154 79.6L153.5 80.6L153 81.6L152.4 82.5L151.7 83.2L150.9 83.9L150.1 84.4L149.2 84.7L148.4 84.9L147.7 84.9L147 84.7Z"/>
<ellipse class="q" cx="149.7" cy="79" rx="4.2" ry="6.3" transform="rotate(28 149.7 79)"/>
<ellipse class="q" cx="149.7" cy="79" rx="2.3" ry="3.5" transform="rotate(28 149.7 79)"/>
<ellipse cx="149.4" cy="78.5" rx="1.7" ry="2.6" transform="rotate(28 149.4 78.5)" fill="#777" stroke="#222" stroke-width=".8"/>
<path class="q" d="M154.3 89.9L153.6 89.5L153 88.9L152.6 88.2L152.2 87.4L152.1 86.4L152.1 85.4L152.2 84.3L152.5 83.2L153 82.1L153.5 81.1L154.2 80.1L155 79.3L155.8 78.6L156.7 78.1L157.6 77.8L158.5 77.6L159.3 77.6L160.1 77.9L160.8 78.2L161.5 78.6L162.1 79.1L162.5 79.9L162.8 80.7L163 81.7L163 82.7L162.8 83.8L162.5 84.9L162.1 86L161.5 87L160.9 87.9L160.1 88.8L159.3 89.4L158.4 90L157.5 90.3L156.6 90.5L155.8 90.5L155 90.2Z"/>
<ellipse class="q" cx="157.9" cy="84.2" rx="4.6" ry="6.7" transform="rotate(28 157.9 84.2)"/>
<ellipse class="q" cx="157.9" cy="84.2" rx="2" ry="2.9" transform="rotate(28 157.9 84.2)"/>
<path class="p" d="M43.8 256.9L43.4 256.6L43.1 256.2L42.9 255.7L42.7 255.1L42.7 254.5L42.7 253.8L42.9 253L43.1 252.3L43.5 251.5L43.9 250.8L44.3 250.2L44.8 249.7L45.4 249.2L45.9 248.8L46.5 248.6L47 248.5L47.5 248.5L48 248.7L54.7 252.1L55.1 252.4L55.4 252.8L55.6 253.3L55.8 253.9L55.8 254.5L55.8 255.2L55.6 256L55.4 256.7L55.1 257.5L54.7 258.1L54.2 258.8L53.7 259.3L53.1 259.8L52.6 260.1L52 260.4L51.5 260.5L51 260.5L50.5 260.3Z"/>
<ellipse class="p" cx="52.6" cy="256.2" rx="2.8" ry="4.6" transform="rotate(27 52.6 256.2)"/>
<path class="t" d="M43 256L49.2 259.2"/>
<path class="t" d="M42.7 254.7L48.9 257.9"/>
<path class="t" d="M42.9 253.2L49.1 256.3"/>
<path class="t" d="M43.5 251.5L49.7 254.7"/>
<path class="t" d="M44.4 250.1L50.7 253.3"/>
<path class="t" d="M45.6 249L51.8 252.2"/>
<path class="t" d="M46.8 248.5L53.1 251.7"/>
<path class="p" d="M49.4 262.4L48.8 262L48.3 261.4L48 260.6L47.8 259.8L47.7 258.7L47.8 257.7L48 256.5L48.4 255.4L48.9 254.3L49.5 253.2L50.2 252.3L50.9 251.4L51.8 250.7L52.6 250.2L53.5 249.8L54.3 249.7L55.1 249.7L55.8 250L58.5 251.3L59.1 251.8L59.5 252.4L59.9 253.1L60.1 254L60.2 255L60.1 256.1L59.9 257.2L59.5 258.4L59 259.5L58.4 260.5L57.7 261.5L56.9 262.3L56.1 263L55.2 263.6L54.4 263.9L53.6 264.1L52.8 264L52.1 263.8Z"/>
<ellipse class="p" cx="55.3" cy="257.6" rx="4.2" ry="7" transform="rotate(27 55.3 257.6)"/>
<path class="p" d="M89.3 239.6C88.4 239.2 85.8 237.9 84 237.4C82.2 236.9 80.8 236.4 78.4 236.6C76 236.8 72.6 237.2 69.5 238.6C66.4 240 62.5 242.6 59.7 245C57 247.4 54.7 250.4 53 253.2C51.3 256 50.3 258.9 49.6 262C48.9 265.1 48.7 268.8 48.9 272C49.1 275.2 49.5 278.1 50.6 281C51.7 283.9 53.8 287.6 55.7 289.4C57.6 291.2 61.1 291.6 62.2 292L112.5 319 L136.9 265.6 Z"/>
<path class="t" d="M72 237.6C70.5 238.6 65.5 241.3 63 243.6C60.5 245.9 58.6 248.7 57 251.6C55.4 254.5 54.3 257.8 53.6 261C52.9 264.2 52.8 267.8 53 271C53.2 274.2 53.6 277.1 54.6 280C55.6 282.9 57.5 286.5 59 288.6C60.5 290.7 62.8 291.9 63.5 292.5"/>
<path class="n" d="M89.3 239.8C87.4 240.5 81.5 241.9 78 244C74.5 246.1 71.3 249.4 68.6 252.6C65.9 255.8 63.5 259.4 62 263C60.5 266.6 59.7 270.9 59.4 274.5C59.1 278.1 59.5 281.4 60.4 284.5C61.3 287.6 63.9 291.9 64.6 293.4" style="stroke-width:1.5"/>
<path class="p" d="M106.4 315.5L103.8 313.5L101.5 310.7L99.8 307.3L98.7 303.3L98.2 298.8L98.2 294.1L99 289.2L100.3 284.3L102.1 279.5L104.5 275L107.3 270.9L110.4 267.4L113.8 264.5L117.3 262.4L120.9 261.1L124.4 260.6L127.7 260.9L130.8 262.1L145.6 270.5L148.2 272.5L150.5 275.3L152.2 278.8L153.3 282.8L153.8 287.2L153.8 291.9L153 296.8L151.7 301.8L149.9 306.5L147.5 311L144.7 315.1L141.6 318.6L138.2 321.5L134.7 323.6L131.1 325L127.6 325.5L124.3 325.1L121.2 323.9Z"/>
<ellipse class="p" cx="133.4" cy="297.2" rx="18.8" ry="29.4" transform="rotate(21 133.4 297.2)"/>
<path class="t" d="M106.4 315.4C105.9 314.9 104.3 313.6 103.5 312.4C102.6 311.3 101.9 310 101.3 308.5C100.7 307.1 100.2 305.4 99.9 303.7C99.5 302 99.4 300.2 99.3 298.3C99.3 296.5 99.4 294.5 99.7 292.6C100 290.6 100.4 288.6 101 286.7C101.5 284.7 102.2 282.7 103 280.9C103.8 279 104.8 277.2 105.8 275.5C106.9 273.8 108 272.1 109.3 270.7C110.5 269.2 111.8 267.9 113.1 266.7C114.5 265.6 115.9 264.5 117.3 263.7C118.7 262.9 120.2 262.3 121.6 261.9C123 261.5 124.4 261.3 125.8 261.3C127.2 261.2 129.1 261.8 129.7 261.9"/>
<path class="p" d="M112.5 268.5L118 264L131 266.5L134.5 270.5L128.5 276.5L116 273Z"/>
<ellipse class="d" cx="123.6" cy="269.3" rx="6.6" ry="3.6" transform="rotate(8 123.6 269.3)"/>
<ellipse class="p" cx="123.5" cy="267.6" rx="5.6" ry="3" transform="rotate(8 123.5 267.6)"/>
<ellipse class="p" cx="123.3" cy="266" rx="4" ry="2.2"/>
<path class="p" d="M120.3 265.5L119.8 255.5Q119.8 252.3 122.7 252.2Q125.8 252.3 126 255.2L126.4 265.5Q123.5 267.3 120.3 265.5Z"/>
<path class="t" d="M120.4 256.2Q123 257.8 125.6 256"/>
<ellipse class="n" cx="133.4" cy="297.2" rx="16.3" ry="25.5" transform="rotate(21 133.4 297.2)"/>
<path class="t" d="M119.4 317.7C118.9 317.2 117.4 316 116.6 314.9C115.9 313.8 115.2 312.4 114.7 311C114.2 309.6 113.8 308 113.6 306.3C113.4 304.7 113.3 302.9 113.4 301.1C113.5 299.3 113.8 297.4 114.2 295.5C114.6 293.7 115.2 291.8 115.9 290C116.5 288.2 117.4 286.4 118.3 284.8C119.3 283.1 120.3 281.5 121.5 280.1C122.6 278.7 123.8 277.4 125.1 276.3C126.4 275.2 127.7 274.3 129.1 273.6C130.4 272.9 131.8 272.3 133.1 272C134.4 271.7 136.4 271.8 137 271.7"/>
<path class="p" d="M132 300Q131 290 137 286Q143 283.5 147.5 287L150 297Q150 305 143.5 308.5Q137 309.5 132 300Z"/>
<ellipse class="p" cx="141.3" cy="297.3" rx="5.6" ry="8.3" transform="rotate(25 141.3 297.3)"/>
<ellipse class="n" cx="143" cy="298" rx="4.6" ry="7.2" transform="rotate(25 143 298)"/>
<ellipse class="p" cx="145.2" cy="299" rx="3.8" ry="6.2" transform="rotate(25 145.2 299)"/>
<path class="n" d="M146.5 293Q151.5 293.5 151.8 297.5Q152 301 149 303.5"/>
<ellipse class="p" cx="150.3" cy="295.8" rx="1.7" ry="1.3"/>
<path class="p" d="M148 286.9L154.4 284.7L171.2 292.7L174.9 295.6L175 303.4L170.4 306.8L164.8 305.6L151.4 299.6L149.6 292.4Z"/>
<path class="n" d="M149.6 292.4L164.6 299.4"/>
<path class="n" d="M164.6 299.4C165.6 299.6 168.7 301.1 170.4 300.6C172.1 300.1 174.2 296.9 174.9 296.2"/>
<path class="t" d="M170.4 300.6L170.4 306.6"/>
<ellipse class="p" cx="169.2" cy="296.1" rx="2.7" ry="1.7"/>
<path class="p" d="M119.2 300.4L124 298.6L144.8 306.6L148 309.2L148.2 315.6L143.4 320.6L137.4 319.4L119.5 310.6Z"/>
<path class="n" d="M119.4 304.4C122.4 305.8 133.5 311.4 137.5 313C141.5 314.6 141.4 314.8 143.2 314.3C144.9 313.8 147.2 310.7 148 310"/>
<path class="t" d="M137.5 313L137.4 319.4"/>
<path class="t" d="M143.2 314.3L143.4 320.4"/>
<ellipse class="p" cx="141.9" cy="309.8" rx="2.7" ry="1.7"/>
<ellipse class="n" cx="38.5" cy="237.9" rx="5.5" ry="8" transform="rotate(24 38.5 237.9)" style="stroke-width:1.4;stroke:#444"/>
<g transform="translate(117.1 221.6) rotate(-9)">
<path class="p" d="M-2.7 4V16 Q0 17.8 2.7 16V4Z"/>
<path d="M-2.7 12V16 Q0 17.8 2.7 16V12Z" fill="#555" stroke="#1c1c1c" stroke-width="1"/>
<ellipse class="p" cx="0" cy="3.4" rx="5.7" ry="2.7"/>
<path class="p" d="M-4.5 2.6L-4 -2.6Q0 -5.8 4 -2.6L4.5 2.6Q0 4.8 -4.5 2.6Z"/>
<path class="t" d="M-1.8 -3.9L-2 3.4M1.9 -3.9L2.1 3.4M-4 -2.4Q0 -0.6 4 -2.4"/>
</g>
<g transform="translate(163.7 246.6) rotate(-9)">
<path class="p" d="M-2.7 4V16 Q0 17.8 2.7 16V4Z"/>
<path d="M-2.7 12V16 Q0 17.8 2.7 16V12Z" fill="#555" stroke="#1c1c1c" stroke-width="1"/>
<ellipse class="p" cx="0" cy="3.4" rx="5.7" ry="2.7"/>
<path class="p" d="M-4.5 2.6L-4 -2.6Q0 -5.8 4 -2.6L4.5 2.6Q0 4.8 -4.5 2.6Z"/>
<path class="t" d="M-1.8 -3.9L-2 3.4M1.9 -3.9L2.1 3.4M-4 -2.4Q0 -0.6 4 -2.4"/>
</g>
<path d="M122.6 223.4L159.4 244.2" stroke-dasharray="4 1.2" style="fill:none;stroke:#111;stroke-width:1"/>
<path d="M277 275.5C277.4 276.8 279 280.5 279.6 283C280.2 285.5 280.8 287.9 280.9 290.5C281 293.1 280.8 295.9 280.2 298.5C279.6 301.1 278.5 303.7 277 305.8C275.5 307.9 273.2 309.6 271 311C268.8 312.4 267.2 313 264 314C260.8 315 256 316.2 252 317C248 317.8 244 318.1 240 318.8C236 319.5 232.1 320.2 228 321C223.9 321.8 221.9 321.9 215.7 323.6C209.4 325.3 197.7 328.1 190.5 331C183.3 333.9 177.6 337.2 172.8 341.2C168 345.2 163.9 350.5 161.5 355C159.1 359.5 158.2 363.1 158.3 368.1C158.5 373.2 159.6 380.5 162.4 385.3C165.2 390.1 170.7 394.4 175 397C179.3 399.6 182.9 400.9 188 400.6C193.1 400.3 199.8 398.3 205.7 395C211.6 391.7 218.3 385.6 223.4 381C228.5 376.4 234.3 369.8 236.5 367.5" fill="none" stroke="#1c1c1c" stroke-width="7" stroke-linecap="butt" stroke-linejoin="round"/>
<path d="M277 275.5C277.4 276.8 279 280.5 279.6 283C280.2 285.5 280.8 287.9 280.9 290.5C281 293.1 280.8 295.9 280.2 298.5C279.6 301.1 278.5 303.7 277 305.8C275.5 307.9 273.2 309.6 271 311C268.8 312.4 267.2 313 264 314C260.8 315 256 316.2 252 317C248 317.8 244 318.1 240 318.8C236 319.5 232.1 320.2 228 321C223.9 321.8 221.9 321.9 215.7 323.6C209.4 325.3 197.7 328.1 190.5 331C183.3 333.9 177.6 337.2 172.8 341.2C168 345.2 163.9 350.5 161.5 355C159.1 359.5 158.2 363.1 158.3 368.1C158.5 373.2 159.6 380.5 162.4 385.3C165.2 390.1 170.7 394.4 175 397C179.3 399.6 182.9 400.9 188 400.6C193.1 400.3 199.8 398.3 205.7 395C211.6 391.7 218.3 385.6 223.4 381C228.5 376.4 234.3 369.8 236.5 367.5" fill="none" stroke="#fefefe" stroke-width="4.8" stroke-linecap="butt" stroke-linejoin="round"/>
<g transform="translate(275.6 271.5) rotate(62)"><rect class="p" x="-5.5" y="-3.2" width="11" height="6.4" rx="1.2"/><path class="t" d="M-2 -3.2V3.2M1 -3.2V3.2"/></g>
<g transform="translate(268.4 263.6) rotate(28)"><rect class="p" x="-5.2" y="-3.8" width="10.4" height="7.6" rx="2.4" style="fill:#ddd"/><ellipse class="p" cx="-0.6" cy="0" rx="2" ry="1.8"/></g>
<path class="p" d="M278.2 255.2Q279.5 249.8 285.8 248Q293.5 250 296.1 257.9L295.4 266.2Q293.5 268.8 290.5 268.2L289.5 261.9Q285 262.3 281 259.8Z"/>
<path class="t" d="M279.5 252.3Q287 252.3 291 257.5Q291.3 260.5 289.5 261.9"/>
<g transform="translate(240.6 362.6) rotate(-44)"><rect class="p" x="-5" y="-2.6" width="10" height="5.2" rx="1"/></g>
<g transform="translate(247.6 355.4) rotate(-28)"><rect class="p" x="-5.4" y="-3.2" width="10.8" height="6.4" rx="2" style="fill:#ddd"/><ellipse class="d" cx="0.6" cy="0" rx="1.5" ry="1.3"/></g>
<path class="p" d="M237.3 336.2Q238.3 335 239.6 336L247.3 342Q248.6 343 247.6 344.2L244 348.8Q243 350 241.5 350.6L233.5 353.8Q232 354.4 231.2 355.8L229.2 359.4Q228.4 360.8 226.9 360.1L223.3 358.5Q221.8 357.8 222.4 356.3L224.1 352.1Q224.7 350.6 225.8 349.4L229.3 345.4Q230.4 344.2 231.4 343Z"/>
<path class="t" d="M226.4 351.2L231.6 353.8"/>
<path class="t" d="M231.6 345.4L240.6 350.4"/>
<ellipse class="d" cx="225.2" cy="359.2" rx="2.6" ry="1.3" transform="rotate(24 225.2 359.2)"/>
<path class="p" d="M313.7 288.1L313.4 287.9L313.2 287.6L313 287.3L312.9 286.9L312.9 286.4L312.9 285.9L313 285.4L313.1 284.9L313.4 284.4L313.6 283.9L313.9 283.4L314.3 283L314.7 282.7L315 282.5L315.4 282.3L315.8 282.2L316.2 282.2L316.5 282.3L318.1 283.1L318.4 283.3L318.6 283.6L318.8 283.9L318.9 284.3L318.9 284.8L318.9 285.3L318.8 285.8L318.6 286.3L318.4 286.8L318.2 287.3L317.8 287.8L317.5 288.2L317.1 288.5L316.7 288.7L316.3 288.9L316 289L315.6 289L315.3 288.9Z"/>
<ellipse class="p" cx="316.7" cy="286" rx="1.9" ry="3.2" transform="rotate(26 316.7 286)"/>
<path class="t" d="M314.5 288.4C314.4 288.3 314.1 287.9 314 287.5C313.9 287.2 313.9 286.7 314 286.3C314.1 285.8 314.2 285.3 314.4 284.9C314.6 284.5 314.9 284 315.2 283.7C315.6 283.4 315.9 283.1 316.3 282.9C316.6 282.8 317.1 282.8 317.2 282.8"/>
<path class="p" d="M316.1 287.3L316 287.2L315.9 287.1L315.8 286.9L315.7 286.7L315.7 286.5L315.7 286.3L315.8 286.1L315.8 285.9L315.9 285.6L316.1 285.4L316.2 285.2L316.4 285.1L316.5 284.9L316.7 284.8L316.9 284.7L317 284.7L317.2 284.7L317.3 284.7L327.2 289.6L327.3 289.6L327.4 289.8L327.5 289.9L327.5 290.1L327.6 290.3L327.5 290.5L327.5 290.7L327.4 291L327.3 291.2L327.2 291.4L327.1 291.6L326.9 291.8L326.8 291.9L326.6 292L326.4 292.1L326.3 292.1L326.1 292.1L326 292.1Z"/>
<ellipse class="p" cx="326.6" cy="290.8" rx="0.8" ry="1.4" transform="rotate(26 326.6 290.8)"/>
<path class="t" d="M317.4 287.9C317.4 287.8 317.1 287.6 317.1 287.3C317.1 287 317.1 286.6 317.3 286.3C317.4 286 317.7 285.7 317.9 285.5C318.2 285.4 318.5 285.4 318.7 285.4"/>
<path class="t" d="M318.8 288.6C318.7 288.5 318.5 288.2 318.4 287.9C318.4 287.7 318.5 287.2 318.6 286.9C318.8 286.7 319.1 286.3 319.3 286.2C319.5 286 319.9 286.1 320 286.1"/>
<path class="t" d="M320.1 289.2C320.1 289.1 319.8 288.9 319.8 288.6C319.8 288.3 319.8 287.9 320 287.6C320.1 287.3 320.4 287 320.6 286.8C320.9 286.7 321.2 286.7 321.4 286.7"/>
<path class="t" d="M321.5 289.9C321.4 289.8 321.1 289.5 321.1 289.3C321.1 289 321.2 288.6 321.3 288.3C321.5 288 321.8 287.6 322 287.5C322.2 287.3 322.6 287.4 322.7 287.4"/>
<path class="t" d="M322.8 290.5C322.8 290.4 322.5 290.2 322.5 289.9C322.4 289.6 322.5 289.2 322.7 288.9C322.8 288.6 323.1 288.3 323.3 288.1C323.6 288 323.9 288 324.1 288"/>
<path class="t" d="M324.2 291.2C324.1 291.1 323.8 290.8 323.8 290.6C323.8 290.3 323.9 289.9 324 289.6C324.2 289.3 324.5 288.9 324.7 288.8C324.9 288.6 325.3 288.7 325.4 288.7"/>
<path class="p" d="M313.7 288.1L313.4 287.9L313.2 287.6L313 287.3L312.9 286.9L312.9 286.4L312.9 285.9L313 285.4L313.1 284.9L313.4 284.4L313.6 283.9L313.9 283.4L314.3 283L314.7 282.7L315 282.5L315.4 282.3L315.8 282.2L316.2 282.2L316.5 282.3L318.1 283.1L318.4 283.3L318.6 283.6L318.8 283.9L318.9 284.3L318.9 284.8L318.9 285.3L318.8 285.8L318.6 286.3L318.4 286.8L318.2 287.3L317.8 287.8L317.5 288.2L317.1 288.5L316.7 288.7L316.3 288.9L316 289L315.6 289L315.3 288.9Z"/>
<ellipse class="p" cx="316.7" cy="286" rx="1.9" ry="3.2" transform="rotate(26 316.7 286)"/>
<path class="p" d="M283.4 329.7L283.1 329.5L282.9 329.2L282.7 328.9L282.6 328.5L282.6 328L282.6 327.5L282.7 327L282.8 326.5L283.1 326L283.3 325.5L283.6 325L284 324.6L284.4 324.3L284.7 324.1L285.1 323.9L285.5 323.8L285.9 323.8L286.2 323.9L287.8 324.7L288.1 324.9L288.3 325.2L288.5 325.5L288.6 325.9L288.6 326.4L288.6 326.9L288.5 327.4L288.3 327.9L288.1 328.4L287.9 328.9L287.5 329.4L287.2 329.8L286.8 330.1L286.4 330.3L286 330.5L285.7 330.6L285.3 330.6L285 330.5Z"/>
<ellipse class="p" cx="286.4" cy="327.6" rx="1.9" ry="3.2" transform="rotate(26 286.4 327.6)"/>
<path class="t" d="M284.2 330C284.1 329.9 283.8 329.5 283.7 329.1C283.6 328.8 283.6 328.3 283.7 327.9C283.8 327.4 283.9 326.9 284.1 326.5C284.3 326.1 284.6 325.6 284.9 325.3C285.3 325 285.6 324.7 286 324.5C286.3 324.4 286.8 324.4 286.9 324.4"/>
<path class="p" d="M285.8 328.9L285.7 328.8L285.6 328.7L285.5 328.5L285.4 328.3L285.4 328.1L285.4 327.9L285.5 327.7L285.5 327.5L285.6 327.2L285.8 327L285.9 326.8L286.1 326.7L286.2 326.5L286.4 326.4L286.6 326.3L286.7 326.3L286.9 326.3L287 326.3L296.9 331.2L297 331.2L297.1 331.4L297.2 331.5L297.2 331.7L297.3 331.9L297.2 332.1L297.2 332.3L297.1 332.6L297 332.8L296.9 333L296.8 333.2L296.6 333.4L296.5 333.5L296.3 333.6L296.1 333.7L296 333.7L295.8 333.7L295.7 333.7Z"/>
<ellipse class="p" cx="296.3" cy="332.4" rx="0.8" ry="1.4" transform="rotate(26 296.3 332.4)"/>
<path class="t" d="M287.1 329.5C287.1 329.4 286.8 329.2 286.8 328.9C286.8 328.6 286.8 328.2 287 327.9C287.1 327.6 287.4 327.3 287.6 327.1C287.9 327 288.2 327 288.4 327"/>
<path class="t" d="M288.5 330.2C288.4 330.1 288.2 329.8 288.1 329.5C288.1 329.3 288.2 328.8 288.3 328.5C288.5 328.3 288.8 327.9 289 327.8C289.2 327.6 289.6 327.7 289.7 327.7"/>
<path class="t" d="M289.8 330.8C289.8 330.7 289.5 330.5 289.5 330.2C289.5 329.9 289.5 329.5 289.7 329.2C289.8 328.9 290.1 328.6 290.3 328.4C290.6 328.3 290.9 328.3 291.1 328.3"/>
<path class="t" d="M291.2 331.5C291.1 331.4 290.8 331.1 290.8 330.9C290.8 330.6 290.9 330.2 291 329.9C291.2 329.6 291.5 329.2 291.7 329.1C291.9 328.9 292.3 329 292.4 329"/>
<path class="t" d="M292.5 332.1C292.5 332 292.2 331.8 292.2 331.5C292.1 331.2 292.2 330.8 292.4 330.5C292.5 330.2 292.8 329.9 293 329.7C293.3 329.6 293.6 329.6 293.8 329.6"/>
<path class="t" d="M293.9 332.8C293.8 332.7 293.5 332.4 293.5 332.2C293.5 331.9 293.6 331.5 293.7 331.2C293.9 330.9 294.2 330.5 294.4 330.4C294.6 330.2 295 330.3 295.1 330.3"/>
<path class="p" d="M283.4 329.7L283.1 329.5L282.9 329.2L282.7 328.9L282.6 328.5L282.6 328L282.6 327.5L282.7 327L282.8 326.5L283.1 326L283.3 325.5L283.6 325L284 324.6L284.4 324.3L284.7 324.1L285.1 323.9L285.5 323.8L285.9 323.8L286.2 323.9L287.8 324.7L288.1 324.9L288.3 325.2L288.5 325.5L288.6 325.9L288.6 326.4L288.6 326.9L288.5 327.4L288.3 327.9L288.1 328.4L287.9 328.9L287.5 329.4L287.2 329.8L286.8 330.1L286.4 330.3L286 330.5L285.7 330.6L285.3 330.6L285 330.5Z"/>
<ellipse class="p" cx="286.4" cy="327.6" rx="1.9" ry="3.2" transform="rotate(26 286.4 327.6)"/>
<path class="p" d="M312.6 314.5L328.7 305.6L329.5 318.5Q330.5 323 334 323Q338 322.6 339 318.5L340.7 300L355.1 292.5L365.5 294.7Q369 293.4 372.5 294.6Q376.2 297.5 375 301.6Q373 305 367.9 304C367.7 305.2 367 308.8 366.6 311C366.2 313.2 366.6 313.6 365.3 317C364.1 320.4 362 326.8 359.1 331.3C356.2 335.8 351.9 340.8 347.9 344.1C343.9 347.4 338.9 350 335.1 351.3C331.4 352.6 328.1 352.8 325.4 352.1C322.7 351.4 320.7 349.4 319 347.3C317.3 345.2 315.9 342 315 339.3C314.1 336.6 313.7 332.6 313.4 331.3Q309.4 330.4 307.4 328Q305.4 324 307.6 320.6Q309.4 318.8 312 318.6Z"/>
<path class="t" d="M364.6 303C364.4 304.2 364 307.8 363.6 310C363.2 312.2 363.4 312.8 362.2 316C361 319.2 359.1 325.2 356.4 329.4C353.7 333.6 349.6 338 346 341C342.4 344 337.9 346.4 334.6 347.6C331.3 348.8 328.3 349 326 348.4C323.7 347.8 322.1 345.9 320.6 344C319.1 342.1 318 339.5 317.2 337C316.4 334.5 315.9 330.3 315.6 329"/>
<path class="n" d="M355.3 293C355.6 294.2 356.6 296.8 357 300C357.4 303.2 358.3 307.7 357.6 312C356.9 316.3 354.9 321.8 352.6 326C350.3 330.2 346.8 334.5 343.6 337.4C340.4 340.3 336.4 342.4 333.6 343.6C330.8 344.8 328.5 344.9 326.6 344.4C324.7 343.9 323.3 342.5 322 340.6C320.7 338.7 319.5 335.8 318.6 333C317.7 330.2 316.8 325.5 316.4 324"/>
<path class="t" d="M360.8 294C360.9 295.5 361.6 299.7 361.6 303C361.6 306.3 361.8 309.8 360.6 314C359.4 318.2 357.2 323.8 354.6 328C352 332.2 348.4 336.4 345 339.4C341.6 342.4 337.1 344.6 334 345.8C330.9 347 328.3 347.2 326.2 346.6C324.1 346 322.6 344.3 321.2 342.4C319.8 340.5 318.7 337.6 317.8 335C316.9 332.4 316.3 328.3 316 327"/>
<path class="t" d="M357 302.4L364.6 303.4"/>
<ellipse class="p" cx="311.2" cy="325" rx="1.9" ry="2.8" transform="rotate(20 311.2 325)"/>
<ellipse class="p" cx="370.7" cy="299.4" rx="1.9" ry="2.8" transform="rotate(20 370.7 299.4)"/>
<path d="M337 387.6C336.4 386.8 333.9 384.9 333.2 383C332.5 381.1 332.5 378.8 333 376.5C333.5 374.2 334.6 371.7 336 369.5C337.4 367.3 339.3 365.3 341.5 363.5C343.7 361.7 346.6 359.9 349 358.5C351.4 357.1 353.5 356 356.2 354.8C358.9 353.6 361.9 352.5 365 351.4C368.1 350.3 373.3 348.6 375 348" fill="none" stroke="#1c1c1c" stroke-width="7.9" stroke-linecap="butt" stroke-linejoin="round"/>
<path d="M337 387.6C336.4 386.8 333.9 384.9 333.2 383C332.5 381.1 332.5 378.8 333 376.5C333.5 374.2 334.6 371.7 336 369.5C337.4 367.3 339.3 365.3 341.5 363.5C343.7 361.7 346.6 359.9 349 358.5C351.4 357.1 353.5 356 356.2 354.8C358.9 353.6 361.9 352.5 365 351.4C368.1 350.3 373.3 348.6 375 348" fill="none" stroke="#fefefe" stroke-width="5.7" stroke-linecap="butt" stroke-linejoin="round"/>
<path class="t" d="M335.6 382C335.6 381.1 335 378.4 335.4 376.5C335.8 374.6 336.7 372.7 338 370.8C339.3 368.9 341 367.1 343 365.4C345 363.7 347.7 362 350 360.6C352.3 359.2 354.4 358.2 357 357C359.6 355.8 362.6 354.7 365.6 353.6C368.6 352.5 373.4 350.9 375 350.4"/>
<g transform="translate(383.8 346.2) rotate(-23.8)"><rect class="p" x="-7.2" y="-3.2" width="14.4" height="6.4" rx="3.2"/><rect class="t" x="-4.2" y="-1.3" width="8.4" height="2.6" rx="1.3"/></g>
<g transform="translate(398.2 339.6) rotate(-25.1)"><rect class="p" x="-7.2" y="-3.2" width="14.4" height="6.4" rx="3.2"/><rect class="t" x="-4.2" y="-1.3" width="8.4" height="2.6" rx="1.3"/></g>
<g transform="translate(412.8 332.9) rotate(-24.5)"><rect class="p" x="-7.2" y="-3.2" width="14.4" height="6.4" rx="3.2"/><rect class="t" x="-4.2" y="-1.3" width="8.4" height="2.6" rx="1.3"/></g>
<path d="M419 327.6C419.9 327.1 422.4 325.1 424.5 324.4C426.6 323.7 429.4 323.1 431.5 323.2C433.6 323.3 435.6 323.9 437.4 324.8C439.1 325.7 440.6 327.2 442 328.6C443.4 330 444.6 331.5 445.6 333C446.6 334.5 447.4 336.1 448 337.5C448.6 338.9 449.2 340.9 449.4 341.6" fill="none" stroke="#1c1c1c" stroke-width="6" stroke-linejoin="round"/>
<path d="M419 327.6C419.9 327.1 422.4 325.1 424.5 324.4C426.6 323.7 429.4 323.1 431.5 323.2C433.6 323.3 435.6 323.9 437.4 324.8C439.1 325.7 440.6 327.2 442 328.6C443.4 330 444.6 331.5 445.6 333C446.6 334.5 447.4 336.1 448 337.5C448.6 338.9 449.2 340.9 449.4 341.6" fill="none" stroke="#fefefe" stroke-width="3.6" stroke-dasharray="3.6 1.8" stroke-linejoin="round"/>
<path d="M419 327.6C419.9 327.1 422.4 325.1 424.5 324.4C426.6 323.7 429.4 323.1 431.5 323.2C433.6 323.3 435.6 323.9 437.4 324.8C439.1 325.7 440.6 327.2 442 328.6C443.4 330 444.6 331.5 445.6 333C446.6 334.5 447.4 336.1 448 337.5C448.6 338.9 449.2 340.9 449.4 341.6" fill="none" stroke="#333" stroke-width="1" stroke-dasharray="1.6 3.8" stroke-dashoffset="-1" stroke-linejoin="round"/>
<g transform="translate(338 388.2) rotate(3.3)">
<path d="M0 0Q3.6 -4.6 7.3 -3.4Q10.9 -4.6 14.6 -3.4Q18.2 -4.6 21.9 -3.4Q25.5 -4.6 29.2 -3.4Q32.8 -4.6 36.5 -3.4Q40.1 -4.6 43.8 -3.4Q47.4 -4.6 51.1 -3.4Q54.7 -4.6 58.4 -3.4Q62 -4.6 65.7 -3.4Q69.3 -4.6 73 -3.4Q76.6 -4.6 80.2 -3.4Q83.9 -4.6 87.5 -3.4V1H0Z" fill="#111" stroke="#111" stroke-width="1" stroke-linejoin="round"/>
<rect x="0.5" y="-1.6" width="13.6" height="5.6" rx="2.8" fill="#d8d8d8" stroke="#111" stroke-width="1"/>
<ellipse cx="4.1" cy="1.2" rx="2.4" ry="1.6" fill="#f4f4f4" stroke="#333" stroke-width=".7"/>
<ellipse cx="10.5" cy="1.2" rx="2.4" ry="1.6" fill="#eee" stroke="#333" stroke-width=".7"/>
<rect x="15.1" y="-1.6" width="13.6" height="5.6" rx="2.8" fill="#d8d8d8" stroke="#111" stroke-width="1"/>
<ellipse cx="18.7" cy="1.2" rx="2.4" ry="1.6" fill="#f4f4f4" stroke="#333" stroke-width=".7"/>
<ellipse cx="25.1" cy="1.2" rx="2.4" ry="1.6" fill="#eee" stroke="#333" stroke-width=".7"/>
<rect x="29.7" y="-1.6" width="13.6" height="5.6" rx="2.8" fill="#d8d8d8" stroke="#111" stroke-width="1"/>
<ellipse cx="33.3" cy="1.2" rx="2.4" ry="1.6" fill="#f4f4f4" stroke="#333" stroke-width=".7"/>
<ellipse cx="39.7" cy="1.2" rx="2.4" ry="1.6" fill="#eee" stroke="#333" stroke-width=".7"/>
<rect x="44.3" y="-1.6" width="13.6" height="5.6" rx="2.8" fill="#d8d8d8" stroke="#111" stroke-width="1"/>
<ellipse cx="47.9" cy="1.2" rx="2.4" ry="1.6" fill="#f4f4f4" stroke="#333" stroke-width=".7"/>
<ellipse cx="54.3" cy="1.2" rx="2.4" ry="1.6" fill="#eee" stroke="#333" stroke-width=".7"/>
<rect x="58.9" y="-1.6" width="13.6" height="5.6" rx="2.8" fill="#d8d8d8" stroke="#111" stroke-width="1"/>
<ellipse cx="62.4" cy="1.2" rx="2.4" ry="1.6" fill="#f4f4f4" stroke="#333" stroke-width=".7"/>
<ellipse cx="68.9" cy="1.2" rx="2.4" ry="1.6" fill="#eee" stroke="#333" stroke-width=".7"/>
<rect x="73.5" y="-1.6" width="13.6" height="5.6" rx="2.8" fill="#d8d8d8" stroke="#111" stroke-width="1"/>
<ellipse cx="77" cy="1.2" rx="2.4" ry="1.6" fill="#f4f4f4" stroke="#333" stroke-width=".7"/>
<ellipse cx="83.5" cy="1.2" rx="2.4" ry="1.6" fill="#eee" stroke="#333" stroke-width=".7"/>
</g>
<ellipse class="p" cx="335" cy="385" rx="2.8" ry="3.8" transform="rotate(-15 335 385)"/>
<path class="p" d="M422.9 356.2C423.1 356.2 423.8 356.2 424.2 356.3C424.5 356.4 424.9 356.6 425.3 356.8C425.6 357 425.9 357.3 426.1 357.7C426.4 358 426.6 358.4 426.8 358.9C426.9 359.3 427 359.8 427.1 360.4C427.1 360.9 427.1 361.5 427.1 362C427 362.6 426.9 363.2 426.7 363.8C426.6 364.4 426.4 365 426.1 365.6C425.9 366.2 425.6 366.8 425.2 367.4C424.9 367.9 424.5 368.4 424.1 368.9C423.7 369.4 423.3 369.9 422.9 370.3C422.4 370.6 421.9 371 421.5 371.3C421 371.6 420.5 371.8 420.1 371.9C419.6 372.1 419.2 372.2 418.7 372.2C418.3 372.2 417.9 372.2 417.5 372C417.1 371.9 416.7 371.7 416.4 371.5C416.1 371.2 415.8 370.9 415.5 370.6C415.3 370.2 415.1 369.8 415 369.3C414.8 368.9 414.8 368.3 414.7 367.8C414.7 367.3 414.7 366.7 414.8 366.1C414.8 365.5 415 364.9 415.1 364.3C415.3 363.7 415.5 363.1 415.8 362.5C416.1 361.9 416.4 361.3 416.7 360.8C417.1 360.2 417.7 359.5 417.9 359.3L418.7 360.6C418.6 360.8 418.1 361.4 417.9 361.7C417.6 362.1 417.4 362.6 417.2 363C417 363.4 416.9 363.8 416.7 364.3C416.6 364.7 416.5 365.2 416.5 365.6C416.4 366 416.4 366.4 416.4 366.8C416.5 367.2 416.5 367.6 416.6 367.9C416.7 368.2 416.9 368.5 417 368.8C417.2 369.1 417.4 369.3 417.7 369.5C417.9 369.6 418.1 369.8 418.4 369.9C418.7 369.9 419 370 419.3 370C419.6 369.9 420 369.9 420.3 369.8C420.6 369.7 421 369.5 421.3 369.3C421.7 369.1 422 368.8 422.3 368.6C422.6 368.3 422.9 368 423.2 367.6C423.5 367.3 423.8 366.9 424 366.5C424.3 366.1 424.5 365.7 424.7 365.2C424.8 364.8 425 364.4 425.1 363.9C425.2 363.5 425.3 363.1 425.3 362.6C425.4 362.2 425.4 361.8 425.3 361.4C425.3 361 425.2 360.7 425.1 360.4C425 360 424.9 359.7 424.7 359.5C424.5 359.2 424.3 359 424 358.9C423.8 358.7 423.5 358.6 423.2 358.5C423 358.4 422.5 358.5 422.3 358.4Z"/>
<path class="t" d="M426 360.7C426.1 360.9 426.3 361.5 426.3 362C426.3 362.5 426.3 363.1 426.2 363.6C426.1 364.2 425.9 364.7 425.7 365.3C425.5 365.8 425.3 366.4 425 366.9C424.7 367.4 424.3 367.9 424 368.3C423.6 368.7 423.2 369.1 422.8 369.5C422.4 369.8 421.9 370 421.5 370.2C421.1 370.4 420.6 370.5 420.2 370.6C419.8 370.6 419.4 370.6 419.1 370.4C418.7 370.3 418.3 370 418.1 369.9"/>
<path class="p" d="M468.9 383.4C468.9 384 469.7 385.6 469.7 386.4C469.6 387.2 469.1 388 468.5 388.4C467.8 388.9 466.2 388.7 465.6 388.9C465.1 389.1 465.3 388.8 465.2 389.5C465.2 390.2 465.6 392.1 465.4 392.9C465.1 393.8 464.6 394.5 463.9 394.7C463.2 394.9 461.8 394.3 461.3 394.3C460.8 394.3 461 394.1 460.8 394.7C460.6 395.4 460.6 397.6 460.2 398.4C459.9 399.3 459.2 399.8 458.6 399.8C457.9 399.8 456.8 398.7 456.4 398.5C455.9 398.3 456.1 398.2 455.8 398.9C455.5 399.5 455.1 401.8 454.6 402.5C454.1 403.3 453.4 403.6 452.9 403.5C452.3 403.3 451.5 401.7 451.1 401.4C450.7 401 451 400.9 450.6 401.6C450.2 402.2 449.4 404.4 448.8 405C448.2 405.7 447.5 405.8 447 405.4C446.6 405 446.2 403.1 445.9 402.7C445.6 402.2 445.9 402.2 445.4 402.7C444.9 403.2 443.7 405.3 443.1 405.8C442.4 406.2 441.8 406.2 441.5 405.6C441.1 405.1 441.2 402.9 441 402.4C440.8 401.8 441.1 401.9 440.5 402.2C440 402.6 438.6 404.4 437.9 404.7C437.2 405 436.7 404.8 436.5 404C436.3 403.3 436.7 401.1 436.7 400.5C436.7 399.8 436.8 399.9 436.3 400.2C435.8 400.4 434.1 401.8 433.5 401.9C432.8 402 432.4 401.6 432.3 400.8C432.3 399.9 433.1 397.7 433.2 397.1C433.3 396.4 433.5 396.6 432.9 396.6C432.4 396.7 430.7 397.7 430.1 397.5C429.5 397.4 429.2 396.8 429.3 396C429.4 395.1 430.6 393 430.8 392.4C431.1 391.7 431.1 391.9 430.6 391.8C430.2 391.7 428.4 392.2 427.9 391.8C427.4 391.5 427.2 390.8 427.5 389.9C427.8 389.1 429.3 387.3 429.6 386.6C429.9 386 430 386.3 429.6 386C429.1 385.8 427.5 385.7 427.1 385.2C426.7 384.7 426.7 383.8 427.1 383C427.6 382.2 429.2 380.8 429.6 380.2C430.1 379.7 430 380 429.7 379.6C429.4 379.2 428 378.5 427.7 377.9C427.5 377.2 427.6 376.4 428.2 375.6C428.7 374.9 430.5 374 430.9 373.5C431.4 373.1 431.4 373.4 431.1 372.9C430.9 372.3 429.8 371.2 429.7 370.4C429.6 369.6 429.9 368.8 430.5 368.2C431.2 367.6 432.9 367.2 433.4 366.9C434 366.6 433.8 366.8 433.7 366.2C433.7 365.6 432.9 364 432.9 363.2C433 362.4 433.5 361.6 434.1 361.2C434.8 360.7 436.4 360.9 437 360.7C437.5 360.5 437.3 360.8 437.4 360.1C437.4 359.4 437 357.5 437.2 356.7C437.5 355.8 438 355.1 438.7 354.9C439.4 354.7 440.8 355.3 441.3 355.3C441.8 355.3 441.6 355.5 441.8 354.9C442 354.2 442 352 442.4 351.2C442.7 350.3 443.4 349.8 444 349.8C444.7 349.8 445.8 350.9 446.2 351.1C446.7 351.3 446.5 351.4 446.8 350.7C447.1 350.1 447.5 347.8 448 347.1C448.5 346.3 449.2 346 449.7 346.1C450.3 346.3 451.1 347.9 451.5 348.2C451.9 348.6 451.6 348.7 452 348C452.4 347.4 453.2 345.2 453.8 344.6C454.4 343.9 455.1 343.8 455.6 344.2C456 344.6 456.4 346.5 456.7 346.9C457 347.4 456.7 347.4 457.2 346.9C457.7 346.4 458.9 344.3 459.5 343.8C460.2 343.4 460.8 343.4 461.1 344C461.5 344.5 461.4 346.7 461.6 347.2C461.8 347.8 461.5 347.7 462.1 347.4C462.6 347 464 345.2 464.7 344.9C465.4 344.6 465.9 344.8 466.1 345.6C466.3 346.3 465.9 348.5 465.9 349.1C465.9 349.8 465.8 349.7 466.3 349.4C466.8 349.2 468.5 347.8 469.1 347.7C469.8 347.6 470.2 348 470.3 348.8C470.3 349.7 469.5 351.9 469.4 352.5C469.3 353.2 469.1 353 469.7 353C470.2 352.9 471.9 351.9 472.5 352.1C473.1 352.2 473.4 352.8 473.3 353.6C473.2 354.5 472 356.6 471.8 357.2C471.5 357.9 471.5 357.7 472 357.8C472.4 357.9 474.2 357.4 474.7 357.8C475.2 358.1 475.4 358.8 475.1 359.7C474.8 360.5 473.3 362.3 473 363C472.7 363.6 472.6 363.3 473 363.6C473.5 363.8 475.1 363.9 475.5 364.4C475.9 364.9 475.9 365.8 475.5 366.6C475 367.4 473.4 368.8 473 369.4C472.5 369.9 472.6 369.6 472.9 370C473.2 370.4 474.6 371.1 474.9 371.7C475.1 372.4 475 373.2 474.4 374C473.9 374.7 472.1 375.6 471.7 376.1C471.2 376.5 471.2 376.2 471.5 376.7C471.7 377.3 472.8 378.4 472.9 379.2C473 380 472.7 380.8 472.1 381.4C471.4 382 469.7 382.4 469.2 382.7C468.6 383 468.8 382.8 468.9 383.4Z"/>
<ellipse class="p" cx="449.8" cy="361.8" rx="4.1" ry="5.9" transform="rotate(20 449.8 361.8)" style="stroke-width:1.2"/>
<ellipse class="p" cx="463.3" cy="361.4" rx="4.1" ry="5.9" transform="rotate(20 463.3 361.4)" style="stroke-width:1.2"/>
<ellipse class="p" cx="438.9" cy="376.8" rx="4.1" ry="5.9" transform="rotate(20 438.9 376.8)" style="stroke-width:1.2"/>
<ellipse class="p" cx="465" cy="376.3" rx="4.1" ry="5.9" transform="rotate(20 465 376.3)" style="stroke-width:1.2"/>
<ellipse class="p" cx="440.4" cy="390.8" rx="4.1" ry="5.9" transform="rotate(20 440.4 390.8)" style="stroke-width:1.2"/>
<ellipse class="p" cx="453.1" cy="389.8" rx="4.1" ry="5.9" transform="rotate(20 453.1 389.8)" style="stroke-width:1.2"/>
<path class="p" d="M452.7 368.9Q453.7 368.2 454.7 368.9L456.2 369.9Q457.2 370.6 457 371.8L455.6 378.4Q455.4 379.6 454.4 380.3L452.2 381.7Q451.2 382.4 450.5 381.5L448.9 379.5Q448.2 378.6 448.4 377.4L449.6 372.2Q449.8 371 450.8 370.3Z"/>
<path class="t" d="M453.7 368.8L452 372.6L450.6 380.6"/>
<path class="t" d="M452 372.6L456.6 371"/>
<path class="q" d="M510.8 384.8L514.8 381.8L521.6 383.8L523 387.6L519 389L512.5 387Z"/>
<path class="t" d="M510.8 384.8L517.8 387L521.6 383.8"/>
<path class="q" d="M518.6 393.8L518.1 393.5L517.7 393.1L517.4 392.5L517.2 391.8L517 391.1L517 390.3L517.1 389.4L517.3 388.6L517.6 387.7L518 386.9L518.5 386.2L519 385.5L519.6 384.9L520.3 384.5L520.9 384.2L521.5 384.1L522.1 384.1L522.7 384.2L525 385.2L525.5 385.5L525.9 385.9L526.3 386.5L526.5 387.2L526.6 387.9L526.6 388.7L526.6 389.6L526.4 390.4L526 391.3L525.6 392.1L525.2 392.8L524.6 393.5L524 394.1L523.4 394.5L522.8 394.8L522.1 394.9L521.5 394.9L520.9 394.8Z"/>
<ellipse class="q" cx="523" cy="390" rx="3.3" ry="5.2" transform="rotate(23 523 390)"/>
<path class="q" d="M521.6 393.3L521.2 393.1L520.9 392.8L520.7 392.4L520.5 391.9L520.5 391.4L520.4 390.9L520.5 390.3L520.6 389.7L520.9 389.1L521.1 388.5L521.5 388L521.8 387.5L522.3 387.2L522.7 386.9L523.1 386.7L523.6 386.6L524 386.6L524.4 386.7L526.7 387.6L527 387.9L527.3 388.2L527.6 388.5L527.7 389L527.8 389.5L527.8 390.1L527.8 390.7L527.6 391.3L527.4 391.9L527.1 392.4L526.8 392.9L526.4 393.4L526 393.8L525.6 394.1L525.1 394.3L524.7 394.4L524.3 394.4L523.9 394.3Z"/>
<ellipse class="q" cx="525.3" cy="391" rx="2.3" ry="3.6" transform="rotate(23 525.3 391)"/>
<path class="q" d="M523.3 395.6L522.8 395.3L522.4 394.9L522.1 394.3L521.9 393.7L521.8 393L521.8 392.2L521.8 391.4L522 390.5L522.3 389.7L522.7 388.9L523.2 388.2L523.7 387.6L524.3 387L524.9 386.6L525.5 386.4L526.1 386.2L526.7 386.2L527.2 386.4L529.1 387.1L529.6 387.4L530 387.8L530.3 388.4L530.5 389L530.6 389.7L530.7 390.5L530.6 391.3L530.4 392.2L530.1 393L529.7 393.8L529.2 394.5L528.7 395.1L528.1 395.7L527.5 396.1L526.9 396.4L526.3 396.5L525.7 396.5L525.2 396.3Z"/>
<ellipse class="q" cx="527.1" cy="391.7" rx="3.2" ry="5" transform="rotate(23 527.1 391.7)"/>
<path class="q" d="M525.7 395.2L525.3 394.9L525 394.6L524.8 394.2L524.6 393.8L524.5 393.2L524.5 392.6L524.6 392L524.7 391.4L524.9 390.8L525.2 390.2L525.6 389.7L526 389.2L526.4 388.8L526.8 388.5L527.3 388.3L527.7 388.2L528.2 388.2L528.6 388.3L536.9 391.9L537.2 392.1L537.5 392.4L537.7 392.8L537.9 393.2L538 393.8L538 394.4L538 395L537.8 395.6L537.6 396.2L537.3 396.8L537 397.3L536.6 397.8L536.1 398.2L535.7 398.5L535.2 398.7L534.8 398.8L534.4 398.8L534 398.7Z"/>
<ellipse class="q" cx="535.4" cy="395.3" rx="2.4" ry="3.7" transform="rotate(23 535.4 395.3)"/>
<path class="q" d="M534.3 397.9L534 397.8L533.8 397.5L533.6 397.2L533.4 396.8L533.4 396.4L533.4 396L533.4 395.5L533.5 395L533.7 394.5L533.9 394.1L534.2 393.7L534.5 393.3L534.8 393L535.2 392.7L535.5 392.6L535.9 392.5L536.2 392.5L536.5 392.6L540.2 394.2L540.5 394.3L540.7 394.6L540.9 394.9L541.1 395.2L541.1 395.7L541.1 396.1L541.1 396.6L541 397.1L540.8 397.5L540.6 398L540.3 398.4L540 398.8L539.7 399.1L539.3 399.3L539 399.5L538.6 399.6L538.3 399.6L538 399.5Z"/>
<ellipse class="q" cx="539.1" cy="396.8" rx="1.9" ry="2.9" transform="rotate(23 539.1 396.8)"/>
<ellipse class="g" cx="539.1" cy="396.8" rx="0.9" ry="1.4" transform="rotate(23 539.1 396.8)"/>
<path class="q" d="M543.5 405.9L542.9 405.5L542.4 404.9L542.1 404.2L541.8 403.3L541.7 402.4L541.8 401.3L542 400.3L542.3 399.2L542.8 398.2L543.3 397.2L544 396.3L544.7 395.6L545.5 394.9L546.4 394.4L547.2 394.1L548 394L548.7 394.1L549.4 394.3L550.1 394.6L550.6 395L551.1 395.6L551.5 396.3L551.7 397.2L551.8 398.1L551.8 399.1L551.6 400.2L551.3 401.3L550.8 402.3L550.2 403.3L549.6 404.2L548.8 404.9L548 405.6L547.2 406.1L546.4 406.4L545.6 406.5L544.8 406.4L544.1 406.2Z"/>
<ellipse class="q" cx="547.1" cy="400.4" rx="4.2" ry="6.5" transform="rotate(27 547.1 400.4)"/>
<ellipse class="q" cx="547.1" cy="400.4" rx="2" ry="3.2" transform="rotate(27 547.1 400.4)"/>
<path class="q" d="M555.4 406.6C555.5 406.4 555.6 405.7 555.7 405.2C555.8 404.8 556 404.3 556.2 403.9C556.4 403.4 556.7 403 557 402.6C557.2 402.2 557.5 401.8 557.9 401.5C558.2 401.1 558.5 400.8 558.9 400.6C559.2 400.3 559.6 400.1 559.9 399.9C560.3 399.8 560.6 399.7 561 399.6C561.3 399.6 561.7 399.6 562 399.6C562.3 399.7 562.6 399.8 562.9 400C563.1 400.1 563.4 400.3 563.6 400.6C563.8 400.9 564 401.2 564.1 401.5C564.2 401.9 564.3 402.2 564.4 402.6C564.4 403 564.4 403.5 564.4 403.9C564.4 404.4 564.3 404.8 564.2 405.3C564 405.8 563.9 406.2 563.7 406.7C563.5 407.1 563.3 407.6 563 408C562.7 408.4 562.4 408.8 562.1 409.1C561.8 409.5 561.5 409.8 561.1 410.1C560.8 410.3 560.4 410.6 560.1 410.8C559.7 410.9 559.4 411.1 559 411.1C558.7 411.2 558.3 411.2 558 411.2C557.7 411.2 557.2 411 557.1 410.9L558 409.1C558.1 409.2 558.4 409.3 558.6 409.3C558.8 409.3 559.1 409.3 559.3 409.3C559.5 409.2 559.8 409.1 560 409C560.3 408.9 560.5 408.7 560.7 408.6C561 408.4 561.2 408.2 561.4 407.9C561.6 407.7 561.8 407.4 562 407.1C562.2 406.9 562.3 406.6 562.5 406.3C562.6 406 562.7 405.6 562.8 405.3C562.9 405 562.9 404.7 562.9 404.4C563 404.1 563 403.8 562.9 403.5C562.9 403.3 562.8 403 562.7 402.8C562.7 402.5 562.5 402.3 562.4 402.2C562.3 402 562.1 401.8 561.9 401.7C561.7 401.6 561.5 401.5 561.3 401.5C561.1 401.5 560.9 401.5 560.6 401.5C560.4 401.5 560.2 401.6 559.9 401.7C559.7 401.8 559.4 402 559.2 402.1C559 402.3 558.7 402.5 558.5 402.7C558.3 403 558.1 403.2 557.9 403.5C557.7 403.8 557.6 404.1 557.4 404.4C557.3 404.7 557.2 405 557.1 405.3C557 405.6 556.9 406.1 556.9 406.2Z"/>
<path class="t" d="M562.7 402.8L561.8 403.6"/>
<ellipse class="p" cx="566" cy="422.4" rx="3.2" ry="5" transform="rotate(20 566 422.4)"/>
<path class="p" d="M572.2 437.2L570.2 435.8L568.6 433.8L567.4 431.4L566.6 428.4L566.3 425.2L566.6 421.7L567.3 418L568.4 414.3L570 410.7L572 407.3L574.3 404.2L576.8 401.5L579.5 399.3L582.3 397.6L585.1 396.5L587.9 396L590.4 396.2L592.8 397L597.7 399.5L599.7 400.9L601.3 402.9L602.5 405.3L603.3 408.3L603.6 411.5L603.3 415L602.6 418.7L601.5 422.4L599.9 426L597.9 429.4L595.6 432.5L593.1 435.2L590.4 437.4L587.6 439.1L584.8 440.2L582 440.7L579.5 440.5L577.1 439.7Z"/>
<ellipse class="p" cx="587.4" cy="419.6" rx="14" ry="22.6" transform="rotate(27 587.4 419.6)"/>
<path class="n" d="M573.5 437.9C573.1 437.5 571.8 436.7 571.1 435.9C570.4 435 569.8 434.1 569.4 433C568.9 431.9 568.5 430.7 568.3 429.4C568.1 428.1 568 426.7 568 425.3C568.1 423.8 568.2 422.3 568.5 420.8C568.8 419.2 569.2 417.7 569.8 416.1C570.3 414.6 571 413.1 571.7 411.6C572.5 410.1 573.3 408.7 574.2 407.4C575.2 406 576.2 404.8 577.2 403.7C578.3 402.5 579.4 401.5 580.6 400.6C581.7 399.7 582.9 399 584.1 398.4C585.3 397.8 586.5 397.4 587.6 397.1C588.8 396.9 589.9 396.8 591 396.9C592 397 593.5 397.5 594 397.6"/>
<path class="t" d="M575.1 438.7C574.7 438.3 573.4 437.5 572.7 436.7C572 435.9 571.4 434.9 571 433.8C570.5 432.7 570.1 431.5 569.9 430.2C569.7 428.9 569.6 427.5 569.6 426.1C569.7 424.6 569.8 423.1 570.1 421.6C570.4 420.1 570.8 418.5 571.4 417C571.9 415.4 572.6 413.9 573.3 412.4C574.1 411 574.9 409.5 575.8 408.2C576.8 406.9 577.8 405.6 578.9 404.5C579.9 403.3 581.1 402.3 582.2 401.4C583.3 400.6 584.5 399.8 585.7 399.2C586.9 398.6 588.1 398.2 589.2 398C590.4 397.7 591.5 397.6 592.6 397.7C593.6 397.8 595.1 398.3 595.6 398.4"/>
<ellipse class="p" cx="588.8" cy="420.2" rx="7.5" ry="11.4" transform="rotate(27 588.8 420.2)"/>
<path class="n" d="M591.9 409.7C592.2 410 593 410.7 593.4 411.3C593.8 412 594.1 412.7 594.3 413.6C594.5 414.4 594.5 415.4 594.5 416.3C594.4 417.3 594.3 418.3 594 419.3C593.7 420.3 593.3 421.3 592.8 422.3C592.4 423.2 591.8 424.1 591.1 424.9C590.5 425.7 589.7 426.5 589 427.1C588.3 427.7 587.5 428.2 586.7 428.5C585.9 428.9 585.1 429.1 584.3 429.2C583.6 429.2 582.5 428.9 582.2 428.9"/>
<path class="t" d="M583.1 426.1C582.9 425.9 582.2 425.1 582 424.5C581.7 423.9 581.6 423.1 581.5 422.3C581.5 421.5 581.6 420.6 581.8 419.7C582 418.8 582.3 417.9 582.8 417.1C583.2 416.3 583.7 415.5 584.3 414.8C584.9 414.2 585.5 413.5 586.2 413.1C586.9 412.7 587.6 412.3 588.3 412.1C588.9 412 589.9 412.1 590.2 412.1"/>
<ellipse class="p" cx="599.8" cy="414.7" rx="1.5" ry="2.4" transform="rotate(27 599.8 414.7)"/>
<ellipse class="p" cx="575.3" cy="427" rx="1.5" ry="2.4" transform="rotate(27 575.3 427)"/>
<ellipse class="d" cx="587.7" cy="405.6" rx="0.6" ry="0.9" transform="rotate(27 587.7 405.6)"/>
<ellipse class="g" cx="587.3" cy="434" rx="0.7" ry="1.2" transform="rotate(27 587.3 434)"/>
<path class="p" d="M598.4 441.5L598.3 441.4L598.2 441.3L598.1 441.1L598 440.9L598 440.6L598 440.4L598.1 440.1L598.2 439.8L598.3 439.5L598.4 439.3L598.6 439L598.8 438.8L599 438.7L599.2 438.5L599.4 438.5L599.6 438.4L599.8 438.4L600 438.5L603 440L603.1 440.1L603.3 440.3L603.4 440.5L603.4 440.7L603.4 440.9L603.4 441.2L603.3 441.5L603.3 441.7L603.1 442L603 442.3L602.8 442.5L602.6 442.7L602.4 442.9L602.2 443L602 443.1L601.8 443.1L601.6 443.1L601.5 443.1Z"/>
<ellipse class="p" cx="602.2" cy="441.5" rx="1" ry="1.7" transform="rotate(27 602.2 441.5)"/>
<path class="p" d="M612.2 444.4L611.1 443.6L610.2 442.5L609.5 441.2L609.1 439.6L609 437.8L609.1 435.8L609.5 433.8L610.1 431.8L611 429.9L612.1 428L613.3 426.3L614.7 424.8L616.2 423.6L617.7 422.6L619.3 422L620.8 421.8L622.2 421.9L623.5 422.3L631 426.2L632.1 426.9L633 428L633.7 429.4L634.1 431L634.3 432.8L634.1 434.7L633.8 436.7L633.1 438.7L632.3 440.7L631.2 442.6L629.9 444.3L628.5 445.7L627 447L625.5 447.9L623.9 448.5L622.5 448.8L621 448.7L619.8 448.2Z"/>
<ellipse class="p" cx="625.4" cy="437.2" rx="7.7" ry="12.4" transform="rotate(27 625.4 437.2)"/>
<path class="p" d="M628 444.4L620.7 446.5L618.1 439.3L622.8 430L630.1 427.9L632.7 435.1Z"/>
<path class="t" d="M627.4 432.4L622.7 441.6L615.3 443.7"/>
<path class="t" d="M632.7 435.1L627.4 432.4"/>
<path class="t" d="M628 444.4L622.7 441.6"/>
<path class="t" d="M620.7 446.5L615.3 443.7"/>
<path class="p" d="M636.6 449.2L640.2 440.6L644.6 438L656.8 445.4L655.2 454.6L649.6 457.6L645.6 456Z"/>
<path class="n" d="M640.2 440.6L647.6 447.2L656.8 445.4"/>
<path class="n" d="M647.6 447.2L645.6 456"/>
<path class="t" d="M642.6 442.8L640.4 451.4"/>
<ellipse class="p" cx="651.6" cy="450.6" rx="2" ry="2.8" transform="rotate(20 651.6 450.6)"/>
<path class="p" d="M664.2 449.1Q665.2 447.4 666.4 445.8L666.8 445.2Q668 443.6 669.8 443.2L669.8 443.2Q671.6 442.8 673.4 443.7L683.6 449.1Q685.4 450 686.7 451.5L687.3 452.1Q688.6 453.6 688.9 455.6L688.9 456Q689.2 458 688.3 459.8L682.9 471.2Q682 473 680.6 474.5L678.4 476.9Q677 478.4 675.1 479L674.1 479.2Q672.2 479.8 670.3 479.1L662.5 476.3Q660.6 475.6 659 474.4L656.8 472.8Q655.2 471.6 654.4 469.8L654.2 469.4Q653.4 467.6 654.4 465.9Z"/>
<path class="n" d="M666.6 450.1Q667.6 448.4 668.9 446.9L669.1 446.7Q670.4 445.2 671.9 444.9L672 444.9Q673.5 444.6 675.3 445.5L683.6 450.1Q685.4 451 686.8 452.4L687.2 452.8Q688.6 454.2 688.9 456.1L688.9 456.1Q689.2 458 688.3 459.8L682.9 471.2Q682 473 680.6 474.5L678.4 476.9Q677 478.4 675.1 478.9L674.5 479.1Q672.6 479.6 670.7 478.9L664.3 476.7Q662.4 476 660.9 474.6L658.9 472.8Q657.4 471.4 656.7 469.7L656.7 469.7Q656 468 657 466.3Z"/>
<ellipse class="p" cx="672.6" cy="448.2" rx="1.1" ry="1.7" transform="rotate(25 672.6 448.2)"/>
<ellipse class="p" cx="686" cy="456.2" rx="1.3" ry="1.9" transform="rotate(25 686 456.2)"/>
<ellipse class="p" cx="660.4" cy="468.4" rx="1.3" ry="1.9" transform="rotate(25 660.4 468.4)"/>
<ellipse class="p" cx="672.2" cy="476" rx="0.6" ry="0.9" transform="rotate(25 672.2 476)"/>
<path class="p" d="M669.6 458.6Q671 454.2 676 453.2Q678.6 453.6 679.2 455Q674.4 455 672 459.6Z" style="stroke-width:.8"/>
<path class="p" d="M669.2 466Q673.6 469.6 678 466.4Q680.6 463.4 680.6 460.6Q679 462.4 676.4 463.6Q673 466 669.2 466Z" style="stroke-width:.8"/>
<ellipse class="p" cx="672.6" cy="462" rx="1.4" ry="1.8" style="stroke-width:.8"/>
<path class="t" d="M670 461Q671.5 458.6 674.6 459"/>
<path class="p" d="M613.7 382.2L613.4 382.1L613.1 381.8L612.9 381.4L612.8 381L612.8 380.5L612.8 380L612.8 379.5L613 379L613.2 378.4L613.5 377.9L613.8 377.4L614.1 377L614.5 376.7L614.9 376.4L615.3 376.2L615.7 376.1L616 376.1L616.3 376.2L618.5 377.2L618.8 377.4L619.1 377.6L619.3 378L619.4 378.4L619.4 378.9L619.4 379.4L619.4 379.9L619.2 380.5L619 381L618.7 381.5L618.4 382L618.1 382.4L617.7 382.8L617.3 383L616.9 383.2L616.6 383.3L616.2 383.3L615.9 383.2Z"/>
<ellipse class="p" cx="617.2" cy="380.2" rx="2" ry="3.3" transform="rotate(24 617.2 380.2)"/>
<path class="t" d="M614.5 382.5C614.4 382.4 614 382 613.9 381.6C613.8 381.3 613.8 380.8 613.9 380.3C613.9 379.9 614.1 379.4 614.3 378.9C614.5 378.5 614.8 378 615.1 377.6C615.4 377.3 615.8 377 616.1 376.8C616.4 376.6 616.9 376.6 617.1 376.6"/>
<path class="p" d="M616.5 381.8L616.4 381.7L616.2 381.5L616.1 381.3L616.1 381.1L616 380.9L616 380.6L616.1 380.3L616.2 380.1L616.3 379.8L616.4 379.5L616.6 379.3L616.7 379.1L616.9 378.9L617.1 378.7L617.3 378.6L617.5 378.6L617.7 378.6L617.9 378.6L625.2 381.9L625.4 382L625.5 382.1L625.6 382.3L625.6 382.5L625.7 382.8L625.7 383L625.6 383.3L625.5 383.6L625.4 383.9L625.3 384.1L625.1 384.4L625 384.6L624.8 384.8L624.6 384.9L624.4 385L624.2 385.1L624 385.1L623.8 385Z"/>
<ellipse class="p" cx="624.5" cy="383.5" rx="1" ry="1.7" transform="rotate(24 624.5 383.5)"/>
<path class="t" d="M617.9 382.4C617.8 382.2 617.5 381.9 617.4 381.6C617.4 381.3 617.5 380.8 617.6 380.4C617.8 380 618.1 379.6 618.4 379.4C618.7 379.2 619.1 379.3 619.3 379.3"/>
<path class="t" d="M619.2 383C619.2 382.8 618.8 382.6 618.8 382.2C618.8 381.9 618.8 381.4 619 381C619.2 380.6 619.5 380.2 619.8 380C620 379.8 620.5 379.9 620.6 379.9"/>
<path class="t" d="M620.6 383.6C620.5 383.5 620.2 383.2 620.2 382.8C620.1 382.5 620.2 382 620.4 381.6C620.5 381.2 620.9 380.8 621.1 380.6C621.4 380.4 621.9 380.5 622 380.5"/>
<path class="t" d="M622 384.2C621.9 384.1 621.6 383.8 621.5 383.4C621.5 383.1 621.6 382.6 621.7 382.2C621.9 381.9 622.2 381.4 622.5 381.2C622.8 381.1 623.2 381.1 623.4 381.1"/>
<path class="p" d="M554.1 463.8L553.8 463.7L553.5 463.4L553.3 463L553.2 462.6L553.2 462.1L553.2 461.6L553.2 461.1L553.4 460.6L553.6 460L553.9 459.5L554.2 459L554.5 458.6L554.9 458.3L555.3 458L555.7 457.8L556.1 457.7L556.4 457.7L556.7 457.8L558.9 458.8L559.2 459L559.5 459.2L559.7 459.6L559.8 460L559.8 460.5L559.8 461L559.8 461.5L559.6 462.1L559.4 462.6L559.1 463.1L558.8 463.6L558.5 464L558.1 464.4L557.7 464.6L557.3 464.8L557 464.9L556.6 464.9L556.3 464.8Z"/>
<ellipse class="p" cx="557.6" cy="461.8" rx="2" ry="3.3" transform="rotate(24 557.6 461.8)"/>
<path class="t" d="M554.9 464.1C554.8 464 554.4 463.6 554.3 463.2C554.2 462.9 554.2 462.4 554.3 461.9C554.3 461.5 554.5 461 554.7 460.5C554.9 460.1 555.2 459.6 555.5 459.2C555.8 458.9 556.2 458.6 556.5 458.4C556.8 458.2 557.3 458.2 557.5 458.2"/>
<path class="p" d="M556.9 463.4L556.8 463.3L556.6 463.1L556.5 462.9L556.5 462.7L556.4 462.5L556.4 462.2L556.5 461.9L556.6 461.7L556.7 461.4L556.8 461.1L557 460.9L557.1 460.7L557.3 460.5L557.5 460.3L557.7 460.2L557.9 460.2L558.1 460.2L558.3 460.2L565.6 463.5L565.8 463.6L565.9 463.7L566 463.9L566 464.1L566.1 464.4L566.1 464.6L566 464.9L565.9 465.2L565.8 465.5L565.7 465.7L565.5 466L565.4 466.2L565.2 466.4L565 466.5L564.8 466.6L564.6 466.7L564.4 466.7L564.2 466.6Z"/>
<ellipse class="p" cx="564.9" cy="465.1" rx="1" ry="1.7" transform="rotate(24 564.9 465.1)"/>
<path class="t" d="M558.3 464C558.2 463.8 557.9 463.5 557.8 463.2C557.8 462.9 557.9 462.4 558 462C558.2 461.6 558.5 461.2 558.8 461C559.1 460.8 559.5 460.9 559.7 460.9"/>
<path class="t" d="M559.6 464.6C559.6 464.4 559.2 464.2 559.2 463.8C559.2 463.5 559.2 463 559.4 462.6C559.6 462.2 559.9 461.8 560.2 461.6C560.4 461.4 560.9 461.5 561 461.5"/>
<path class="t" d="M561 465.2C560.9 465.1 560.6 464.8 560.6 464.4C560.5 464.1 560.6 463.6 560.8 463.2C560.9 462.8 561.3 462.4 561.5 462.2C561.8 462 562.3 462.1 562.4 462.1"/>
<path class="t" d="M562.4 465.8C562.3 465.7 562 465.4 561.9 465C561.9 464.7 562 464.2 562.1 463.8C562.3 463.5 562.6 463 562.9 462.8C563.2 462.7 563.6 462.7 563.8 462.7"/>
<path class="p" d="M694.2 462.5L694.1 462.4L694 462.3L693.9 462.2L693.8 462L693.8 461.9L693.8 461.7L693.8 461.5L693.8 461.3L693.9 461.1L694 460.9L694.1 460.7L694.2 460.5L694.3 460.4L694.5 460.3L694.6 460.2L694.8 460.2L694.9 460.2L695 460.2L700.7 462.3L700.8 462.3L700.9 462.4L701 462.5L701.1 462.7L701.1 462.9L701.1 463.1L701.1 463.3L701.1 463.5L701 463.7L700.9 463.8L700.8 464L700.7 464.2L700.6 464.3L700.4 464.4L700.3 464.5L700.1 464.5L700 464.5L699.9 464.5Z"/>
<ellipse class="p" cx="700.3" cy="463.4" rx="0.8" ry="1.2" transform="rotate(20 700.3 463.4)"/>
<path class="p" d="M699.5 465.6L699.3 465.4L699.1 465.2L698.9 465L698.8 464.7L698.7 464.4L698.7 464L698.7 463.6L698.8 463.3L698.9 462.9L699 462.5L699.2 462.2L699.4 461.9L699.7 461.6L700 461.4L700.3 461.3L700.5 461.2L700.8 461.2L701.1 461.2L702.2 461.6L702.4 461.8L702.6 461.9L702.8 462.2L702.9 462.5L703 462.8L703 463.2L703 463.5L702.9 463.9L702.8 464.3L702.6 464.7L702.5 465L702.2 465.3L702 465.6L701.7 465.8L701.4 465.9L701.1 466L700.9 466L700.6 466Z"/>
<ellipse class="p" cx="701.4" cy="463.8" rx="1.5" ry="2.3" transform="rotate(20 701.4 463.8)"/>
<ellipse class="d" cx="701.4" cy="463.8" rx="0.8" ry="1.2" transform="rotate(20 701.4 463.8)"/>
</g>

<g id="leaders" class="ln">
<path d="M159.5 51V79"/>
<path d="M97 77.5H141"/>
<path d="M286 65.5H337"/>
<path d="M299.5 119V82"/>
<path d="M330.5 131V167.5H319"/>
<path d="M243.5 175V149.5L255.5 136.5V121"/>
<path d="M117.5 195V217"/>
<path d="M53.5 211V224"/>
<path d="M315.5 259V284L288 326"/>
<path d="M376 297.5H409"/>
<path d="M398 365.5H415"/>
<path d="M386.5 431V395"/>
<path d="M450.5 439V406"/>
<path d="M180.5 447V403"/>
<path d="M536.5 363V377"/>
<path d="M622.5 379.5H657"/>
<path d="M517 462.5H554.5"/>
<path d="M600.5 479V442.5"/>
<path d="M701.5 503V465.5"/>
<path d="M533.5 91V122"/>
<path d="M588 120.5H641"/>
<path d="M399 140.5H437"/>
<path d="M483 196.5H533"/>
<path d="M588 230.5H649"/>
<path d="M36.5 246V263"/>
<path d="M25.5 224.5H75.5L178.5 275.5V326.5H114L25.5 282.5Z"/>
<path d="M502.5 377.5H567.5L712.5 449.5V488.5H655L502.5 411.5Z"/>
</g>

<g id="labels" style="filter:grayscale(1)">
<g class="lb" transform="translate(149 31)"><path class="s" d="M19.9 -0.2V19.8H0L1.6 18.2H18.2V1.4Z"/><rect class="f" x="0.8" y="0.8" width="17.4" height="17.4"/><text transform="translate(10.4 14.8) scale(.9 1)">17</text></g>
<g class="lb" transform="translate(77 67)"><path class="s" d="M19.9 -0.2V19.8H0L1.6 18.2H18.2V1.4Z"/><rect class="f" x="0.8" y="0.8" width="17.4" height="17.4"/><text transform="translate(10.4 14.8) scale(.9 1)">16</text></g>
<g class="lb" transform="translate(337 55)"><path class="s" d="M19.9 -0.2V19.8H0L1.6 18.2H18.2V1.4Z"/><rect class="f" x="0.8" y="0.8" width="17.4" height="17.4"/><text transform="translate(10.4 14.8) scale(.9 1)">11</text></g>
<g class="lb" transform="translate(357.5 55)"><path class="s" d="M19.9 -0.2V19.8H0L1.6 18.2H18.2V1.4Z"/><rect class="f" x="0.8" y="0.8" width="17.4" height="17.4"/><text transform="translate(10.4 14.8) scale(.9 1)">12</text></g>
<g class="lb" transform="translate(289 119)"><path class="s" d="M19.9 -0.2V19.8H0L1.6 18.2H18.2V1.4Z"/><rect class="f" x="0.8" y="0.8" width="17.4" height="17.4"/><text transform="translate(10.4 14.8) scale(.9 1)">19</text></g>
<g class="lb" transform="translate(321 111)"><path class="s" d="M19.9 -0.2V19.8H0L1.6 18.2H18.2V1.4Z"/><rect class="f" x="0.8" y="0.8" width="17.4" height="17.4"/><text transform="translate(10.4 14.8) scale(.9 1)">26</text></g>
<g class="lb" transform="translate(233 175)"><path class="s" d="M19.9 -0.2V19.8H0L1.6 18.2H18.2V1.4Z"/><rect class="f" x="0.8" y="0.8" width="17.4" height="17.4"/><text transform="translate(10.4 14.8) scale(.9 1)">20</text></g>
<g class="lb" transform="translate(107 175)"><path class="s" d="M19.9 -0.2V19.8H0L1.6 18.2H18.2V1.4Z"/><rect class="f" x="0.8" y="0.8" width="17.4" height="17.4"/><text transform="translate(10.4 14.8) scale(.9 1)">15</text></g>
<g class="lb" transform="translate(45 191)"><path class="s" d="M19.9 -0.2V19.8H0L1.6 18.2H18.2V1.4Z"/><rect class="f" x="0.8" y="0.8" width="17.4" height="17.4"/><text transform="translate(10.4 14.8) scale(.9 1)">13</text></g>
<g class="lb" transform="translate(27 261.6)"><path class="s" d="M19.9 -0.2V19.8H0L1.6 18.2H18.2V1.4Z"/><rect class="f" x="0.8" y="0.8" width="17.4" height="17.4"/><text transform="translate(10.4 14.8) scale(.9 1)">18</text></g>
<g class="lb" transform="translate(309 239)"><path class="s" d="M19.9 -0.2V19.8H0L1.6 18.2H18.2V1.4Z"/><rect class="f" x="0.8" y="0.8" width="17.4" height="17.4"/><text transform="translate(10.4 14.8) scale(.9 1)">25</text></g>
<g class="lb" transform="translate(517 71)"><path class="s" d="M19.9 -0.2V19.8H0L1.6 18.2H18.2V1.4Z"/><rect class="f" x="0.8" y="0.8" width="17.4" height="17.4"/><text transform="translate(10.4 14.8) scale(.9 1)">5</text></g>
<g class="lb" transform="translate(641 111)"><path class="s" d="M19.9 -0.2V19.8H0L1.6 18.2H18.2V1.4Z"/><rect class="f" x="0.8" y="0.8" width="17.4" height="17.4"/><text transform="translate(10.4 14.8) scale(.9 1)">8</text></g>
<g class="lb" transform="translate(437 132)"><path class="s" d="M19.9 -0.2V19.8H0L1.6 18.2H18.2V1.4Z"/><rect class="f" x="0.8" y="0.8" width="17.4" height="17.4"/><text transform="translate(10.4 14.8) scale(.9 1)">9</text></g>
<g class="lb" transform="translate(457 132)"><path class="s" d="M19.9 -0.2V19.8H0L1.6 18.2H18.2V1.4Z"/><rect class="f" x="0.8" y="0.8" width="17.4" height="17.4"/><text transform="translate(10.4 14.8) scale(.9 1)">10</text></g>
<g class="lb" transform="translate(533 188)"><path class="s" d="M19.9 -0.2V19.8H0L1.6 18.2H18.2V1.4Z"/><rect class="f" x="0.8" y="0.8" width="17.4" height="17.4"/><text transform="translate(10.4 14.8) scale(.9 1)">7</text></g>
<g class="lb" transform="translate(649 221)"><path class="s" d="M19.9 -0.2V19.8H0L1.6 18.2H18.2V1.4Z"/><rect class="f" x="0.8" y="0.8" width="17.4" height="17.4"/><text transform="translate(10.4 14.8) scale(.9 1)">6</text></g>
<g class="lb" transform="translate(173 447)"><path class="s" d="M19.9 -0.2V19.8H0L1.6 18.2H18.2V1.4Z"/><rect class="f" x="0.8" y="0.8" width="17.4" height="17.4"/><text transform="translate(10.4 14.8) scale(.9 1)">14</text></g>
<g class="lb" transform="translate(409 287)"><path class="s" d="M19.9 -0.2V19.8H0L1.6 18.2H18.2V1.4Z"/><rect class="f" x="0.8" y="0.8" width="17.4" height="17.4"/><text transform="translate(10.4 14.8) scale(.9 1)">4</text></g>
<g class="lb" transform="translate(378 357)"><path class="s" d="M19.9 -0.2V19.8H0L1.6 18.2H18.2V1.4Z"/><rect class="f" x="0.8" y="0.8" width="17.4" height="17.4"/><text transform="translate(10.4 14.8) scale(.9 1)">24</text></g>
<g class="lb" transform="translate(377 431)"><path class="s" d="M19.9 -0.2V19.8H0L1.6 18.2H18.2V1.4Z"/><rect class="f" x="0.8" y="0.8" width="17.4" height="17.4"/><text transform="translate(10.4 14.8) scale(.9 1)">3</text></g>
<g class="lb" transform="translate(439 439)"><path class="s" d="M19.9 -0.2V19.8H0L1.6 18.2H18.2V1.4Z"/><rect class="f" x="0.8" y="0.8" width="17.4" height="17.4"/><text transform="translate(10.4 14.8) scale(.9 1)">2</text></g>
<g class="lb" transform="translate(527 343)"><path class="s" d="M19.9 -0.2V19.8H0L1.6 18.2H18.2V1.4Z"/><rect class="f" x="0.8" y="0.8" width="17.4" height="17.4"/><text transform="translate(10.4 14.8) scale(.9 1)">1</text></g>
<g class="lb" transform="translate(657 371)"><path class="s" d="M19.9 -0.2V19.8H0L1.6 18.2H18.2V1.4Z"/><rect class="f" x="0.8" y="0.8" width="17.4" height="17.4"/><text transform="translate(10.4 14.8) scale(.9 1)">22</text></g>
<g class="lb" transform="translate(497 452)"><path class="s" d="M19.9 -0.2V19.8H0L1.6 18.2H18.2V1.4Z"/><rect class="f" x="0.8" y="0.8" width="17.4" height="17.4"/><text transform="translate(10.4 14.8) scale(.9 1)">22</text></g>
<g class="lb" transform="translate(589 479)"><path class="s" d="M19.9 -0.2V19.8H0L1.6 18.2H18.2V1.4Z"/><rect class="f" x="0.8" y="0.8" width="17.4" height="17.4"/><text transform="translate(10.4 14.8) scale(.9 1)">23</text></g>
<g class="lb" transform="translate(692 503)"><path class="s" d="M19.9 -0.2V19.8H0L1.6 18.2H18.2V1.4Z"/><rect class="f" x="0.8" y="0.8" width="17.4" height="17.4"/><text transform="translate(10.4 14.8) scale(.9 1)">21</text></g>
</g>
</svg>
</body></html>
